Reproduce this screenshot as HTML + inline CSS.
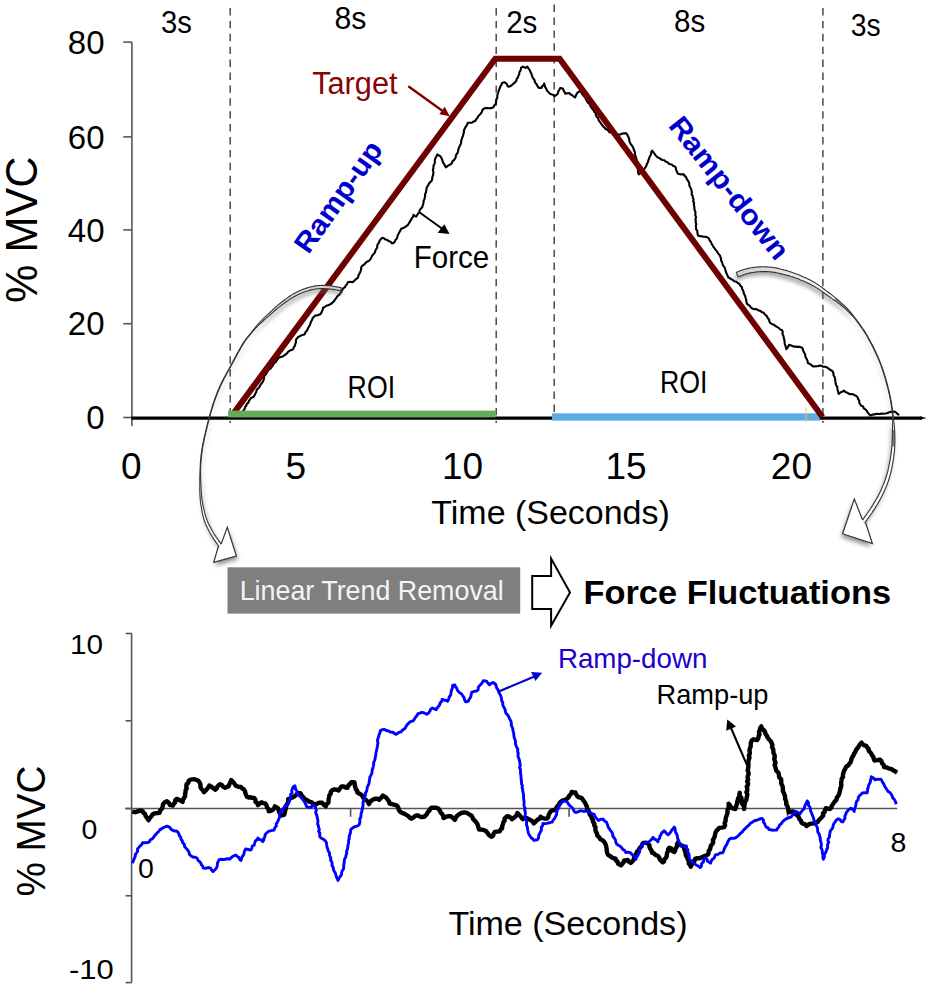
<!DOCTYPE html>
<html><head><meta charset="utf-8"><title>Force ramp figure</title>
<style>
html,body{margin:0;padding:0;background:#fff;width:931px;height:988px;overflow:hidden;}
svg{display:block;}
text{font-family:"Liberation Sans", sans-serif;}
</style></head>
<body>
<svg width="931" height="988" viewBox="0 0 931 988">
<defs>
<linearGradient id="gr" gradientUnits="userSpaceOnUse" x1="737" y1="0" x2="830" y2="0"><stop offset="0" stop-color="#cfcfcf"/><stop offset="0.6" stop-color="#e6e6e6"/><stop offset="1" stop-color="#fff"/></linearGradient><linearGradient id="gl" gradientUnits="userSpaceOnUse" x1="341" y1="0" x2="240" y2="0"><stop offset="0" stop-color="#cfcfcf"/><stop offset="0.7" stop-color="#dcdcdc"/><stop offset="1" stop-color="#fff"/></linearGradient>
<filter id="sh" x="-20%" y="-20%" width="140%" height="140%"><feGaussianBlur stdDeviation="2.2"/></filter>
</defs>
<line x1="230.2" y1="8.0" x2="230.2" y2="423" stroke="#4a4a4a" stroke-width="1.5" stroke-dasharray="7.4 5.5" stroke-dashoffset="0"/>
<line x1="496.2" y1="8.0" x2="496.2" y2="423" stroke="#4a4a4a" stroke-width="1.5" stroke-dasharray="7.4 5.5" stroke-dashoffset="0"/>
<line x1="554.2" y1="4.6" x2="554.2" y2="414" stroke="#4a4a4a" stroke-width="1.5" stroke-dasharray="7.4 5.5" stroke-dashoffset="0"/>
<line x1="822.9" y1="8.0" x2="822.9" y2="423" stroke="#4a4a4a" stroke-width="1.5" stroke-dasharray="7.4 5.5" stroke-dashoffset="0"/>
<line x1="131.9" y1="42" x2="131.9" y2="426" stroke="#555" stroke-width="1.6"/>
<line x1="123.3" y1="42.1" x2="131.9" y2="42.1" stroke="#555" stroke-width="1.6"/>
<line x1="123.3" y1="136.9" x2="131.9" y2="136.9" stroke="#555" stroke-width="1.6"/>
<line x1="123.3" y1="229.9" x2="131.9" y2="229.9" stroke="#555" stroke-width="1.6"/>
<line x1="123.3" y1="323.7" x2="131.9" y2="323.7" stroke="#555" stroke-width="1.6"/>
<line x1="123.3" y1="417.5" x2="131.9" y2="417.5" stroke="#555" stroke-width="1.6"/>
<text x="104.5" y="53.7" font-size="33" fill="#000" text-anchor="end" font-weight="normal">80</text>
<text x="104.5" y="148.5" font-size="33" fill="#000" text-anchor="end" font-weight="normal">60</text>
<text x="104.5" y="241.5" font-size="33" fill="#000" text-anchor="end" font-weight="normal">40</text>
<text x="104.5" y="335.3" font-size="33" fill="#000" text-anchor="end" font-weight="normal">20</text>
<text x="104.5" y="429.1" font-size="33" fill="#000" text-anchor="end" font-weight="normal">0</text>
<text x="131.2" y="478.7" font-size="37" fill="#000" text-anchor="middle" font-weight="normal">0</text>
<text x="295.7" y="478.7" font-size="37" fill="#000" text-anchor="middle" font-weight="normal">5</text>
<text x="462.6" y="478.7" font-size="37" fill="#000" text-anchor="middle" font-weight="normal">10</text>
<text x="626" y="478.7" font-size="37" fill="#000" text-anchor="middle" font-weight="normal">15</text>
<text x="791.4" y="478.7" font-size="37" fill="#000" text-anchor="middle" font-weight="normal">20</text>
<text x="431.3" y="524.4" font-size="34" fill="#000" text-anchor="start" font-weight="normal" textLength="238.5" lengthAdjust="spacingAndGlyphs">Time (Seconds)</text>
<text transform="translate(36.9,229.8) rotate(-90)" font-size="44.5" text-anchor="middle" textLength="146.2" lengthAdjust="spacingAndGlyphs">% MVC</text>
<text x="161.0" y="32.5" font-size="31" fill="#000" text-anchor="start" font-weight="normal" textLength="30.9" lengthAdjust="spacingAndGlyphs">3s</text>
<text x="334.40000000000003" y="28.7" font-size="31" fill="#000" text-anchor="start" font-weight="normal" textLength="31.9" lengthAdjust="spacingAndGlyphs">8s</text>
<text x="506.2" y="32.8" font-size="31" fill="#000" text-anchor="start" font-weight="normal" textLength="31.2" lengthAdjust="spacingAndGlyphs">2s</text>
<text x="674.0999999999999" y="32.2" font-size="31" fill="#000" text-anchor="start" font-weight="normal" textLength="31.2" lengthAdjust="spacingAndGlyphs">8s</text>
<text x="850.6999999999999" y="35.8" font-size="31" fill="#000" text-anchor="start" font-weight="normal" textLength="29.9" lengthAdjust="spacingAndGlyphs">3s</text>
<line x1="131.4" y1="418.2" x2="922" y2="418.2" stroke="#000" stroke-width="3.3"/>
<polygon points="920,416.4 927,418 920,419.6" fill="#000"/>
<rect x="552" y="413.3" width="267.8" height="7.3" fill="#5aace6"/>
<line x1="806.1" y1="407.6" x2="806.1" y2="422.2" stroke="#f2c230" stroke-width="1"/>
<polyline points="131.4,418.0 236.0,418.0 236.0,418.0 236.9,416.6 238.3,415.5 239.3,414.2 240.5,413.0 242.2,411.7 243.7,410.2 244.7,408.8 245.1,407.0 246.3,405.7 246.8,403.9 248.5,402.7 248.9,400.8 250.1,399.3 251.4,397.8 253.4,397.1 254.6,395.4 255.2,393.7 256.2,392.1 256.6,390.2 257.6,388.9 258.8,387.8 259.8,386.4 260.6,384.5 262.0,383.0 263.0,381.2 263.8,379.6 263.9,377.7 264.3,376.0 265.6,374.6 266.6,373.1 267.5,371.5 268.5,369.8 270.3,368.8 271.5,367.2 272.7,365.7 273.5,364.3 274.3,362.9 275.9,362.1 276.6,360.6 277.8,359.0 279.1,357.4 280.9,356.9 282.7,356.4 284.3,355.4 285.7,354.3 287.2,353.2 288.2,351.6 289.9,350.6 291.7,350.1 293.3,349.0 293.9,347.2 295.0,345.7 295.3,343.8 296.0,342.0 295.9,340.0 296.9,338.4 298.2,337.1 299.8,336.1 301.6,335.2 303.6,334.8 304.9,333.8 305.5,332.2 306.6,331.0 307.5,329.6 308.2,327.8 309.2,326.2 310.1,324.5 310.6,322.8 311.3,321.2 312.1,319.7 312.7,318.0 314.0,316.8 315.2,315.5 317.0,315.5 318.7,314.8 320.4,314.2 321.4,312.7 322.0,311.1 322.8,309.5 323.0,307.7 324.8,307.0 326.3,305.7 328.1,305.2 329.9,304.5 331.6,303.5 332.9,302.1 334.2,301.1 335.0,299.6 336.1,298.4 336.8,296.8 338.0,295.7 339.4,294.6 340.3,293.1 341.3,291.8 342.2,290.1 343.2,288.3 345.0,287.2 345.8,285.4 347.2,284.1 347.7,282.2 349.9,281.8 352.2,282.2 353.7,281.4 354.8,280.2 356.3,278.9 358.0,277.7 358.3,275.8 359.1,274.2 360.0,272.5 360.7,270.8 361.2,269.1 361.2,267.3 362.2,265.7 363.9,264.8 365.1,263.5 366.8,261.8 369.0,260.9 370.5,259.1 371.6,257.0 372.4,255.3 373.8,254.0 374.9,252.4 375.4,250.6 376.1,249.1 377.2,247.8 377.2,246.0 377.6,244.4 378.7,243.1 379.3,241.6 380.0,240.0 381.2,238.8 382.5,237.7 384.0,238.4 385.3,239.4 387.0,239.8 388.3,240.9 390.5,241.8 392.2,243.5 393.7,242.8 394.8,241.6 395.4,240.0 396.7,238.7 397.4,237.1 397.7,235.3 398.6,233.8 399.4,232.1 400.4,230.4 401.2,228.7 403.9,227.7 405.9,226.5 407.7,225.1 408.8,223.5 409.7,221.9 410.7,220.4 411.6,218.7 412.9,216.9 413.5,214.8 414.8,215.8 416.1,216.7 417.1,215.0 418.4,213.4 419.3,211.6 419.9,210.0 420.8,208.6 422.2,207.5 422.6,205.8 423.1,204.2 423.6,202.6 423.6,200.8 424.5,199.3 424.7,197.6 425.2,195.9 425.0,194.2 425.9,192.6 426.2,190.9 426.4,189.2 426.9,187.1 428.2,185.4 429.0,183.4 430.3,182.1 431.6,180.9 432.2,179.2 432.3,177.4 432.9,175.7 433.3,173.8 433.4,171.9 432.9,169.9 433.5,168.0 433.4,166.0 434.3,164.1 434.9,162.2 434.8,160.2 435.4,158.2 436.5,156.3 437.4,154.4 439.0,155.5 440.6,156.4 441.4,157.9 442.0,159.5 442.7,161.1 443.2,162.8 444.2,164.2 444.9,165.8 445.8,167.3 447.4,166.1 449.1,165.1 450.9,164.1 452.1,163.0 452.5,161.2 453.9,160.2 454.8,158.9 455.7,157.5 455.9,155.7 456.5,154.2 457.6,152.9 458.0,151.2 458.4,149.3 459.0,147.5 459.9,145.8 460.7,144.1 461.2,142.2 461.2,140.5 461.9,138.9 462.3,137.3 463.2,135.8 463.2,134.1 464.0,132.6 463.8,130.8 464.5,129.3 465.2,127.6 466.2,126.1 467.2,124.6 467.7,122.8 469.6,122.8 471.6,122.8 473.4,121.6 475.4,120.9 476.1,119.2 477.4,118.0 478.1,116.4 479.3,115.1 480.7,113.7 481.8,112.1 482.4,110.1 483.8,108.7 485.4,108.1 487.0,108.0 488.7,108.3 490.5,108.1 492.2,108.0 493.7,106.7 494.6,104.9 496.0,103.5 496.0,101.5 496.4,99.6 497.3,97.8 497.3,95.8 497.6,94.1 498.2,92.5 498.7,90.9 499.3,89.3 499.9,87.7 500.5,86.1 501.6,84.7 501.9,82.9 504.4,82.2 505.8,83.1 507.0,84.2 507.5,86.0 508.9,86.8 511.1,85.8 512.8,84.2 515.2,82.1 516.4,80.7 516.7,78.8 518.0,77.4 518.4,75.6 519.3,74.2 519.2,72.4 520.2,71.1 520.8,69.5 521.0,67.9 522.9,66.6 525.5,67.9 527.4,66.6 528.6,68.6 530.0,70.5 530.6,72.3 531.5,74.0 532.1,75.8 532.6,77.6 533.6,78.9 534.6,80.3 534.9,82.0 535.8,83.4 537.0,84.8 537.7,86.6 539.0,87.9 541.6,87.9 542.1,86.2 543.7,85.1 544.2,83.4 544.7,85.2 545.1,86.9 546.1,88.5 547.1,90.7 548.7,92.4 549.9,93.7 551.6,94.4 553.3,94.8 554.5,96.2 556.3,95.1 557.7,93.7 558.3,91.6 559.3,89.8 560.3,87.9 562.8,88.5 563.5,90.3 564.5,92.0 565.4,93.7 567.3,93.3 569.3,93.0 570.3,94.3 571.9,95.0 573.4,96.3 575.1,97.5 575.8,95.7 576.6,94.0 577.7,92.4 579.2,91.7 580.2,90.4 581.2,91.9 581.8,93.6 583.0,95.0 584.1,96.4 585.3,97.8 586.0,99.5 587.0,101.0 587.7,102.5 589.3,103.5 590.0,105.0 590.7,106.5 591.6,107.9 592.6,109.2 593.8,110.4 594.2,112.0 595.7,113.1 595.9,114.9 596.4,116.4 597.8,117.6 598.4,119.1 598.9,120.7 600.1,121.9 600.8,123.3 601.9,124.6 602.8,125.9 604.1,127.2 605.2,128.7 607.0,129.4 608.3,130.7 609.3,132.3 611.0,132.5 612.6,133.1 614.0,134.0 615.7,133.6 617.4,134.6 619.2,134.6 620.9,134.3 622.5,133.5 624.3,133.4 626.0,133.0 627.0,134.4 627.9,135.9 628.6,137.5 629.2,139.2 629.4,141.0 630.0,142.7 630.8,144.2 631.9,145.6 632.9,147.0 633.5,148.7 634.2,150.5 634.9,152.2 635.0,154.1 635.4,156.0 636.1,157.7 636.5,159.4 637.0,161.0 637.2,162.7 637.3,164.4 637.3,166.1 637.4,167.8 638.0,169.4 637.9,171.1 638.3,172.7 638.7,174.4 640.6,173.1 642.5,171.9 643.5,170.1 644.7,168.4 645.8,166.7 646.6,165.2 647.0,163.6 647.9,162.2 648.3,160.5 649.0,159.0 649.4,157.2 650.3,155.7 651.1,154.0 651.2,152.1 652.2,150.6 653.3,152.1 654.4,153.6 655.4,155.1 656.5,156.4 657.7,157.4 659.4,157.9 660.6,159.0 662.4,160.0 664.4,160.3 665.5,161.5 667.1,162.0 668.3,163.1 669.6,164.1 671.7,164.6 673.3,166.1 675.4,166.7 675.9,168.5 676.3,170.4 677.1,172.1 678.0,173.8 679.9,174.2 681.8,174.4 683.8,174.4 684.7,175.9 686.1,177.1 686.7,178.9 687.7,180.3 688.8,181.9 689.3,183.7 689.3,185.6 690.2,187.3 691.1,188.9 691.5,190.7 691.9,192.4 691.6,194.3 692.7,195.9 692.8,197.7 693.6,199.4 693.1,201.3 694.1,202.9 693.8,204.8 694.3,206.5 694.4,208.3 694.6,210.1 695.4,211.8 695.4,213.6 695.3,215.3 696.1,217.1 695.4,218.9 695.8,220.6 695.7,222.4 696.3,224.1 695.8,225.9 696.1,227.7 696.1,229.4 697.3,230.7 697.4,232.3 697.6,234.0 698.0,235.5 699.7,236.3 701.5,236.1 703.2,236.8 705.5,236.8 707.7,237.4 709.0,238.8 709.7,240.5 710.9,241.9 711.5,243.7 712.7,245.3 713.5,247.1 714.6,248.3 715.5,249.6 716.5,250.8 717.4,252.2 718.5,253.9 719.9,255.4 720.6,257.4 721.1,259.0 721.1,260.7 722.1,262.2 722.5,263.8 723.1,265.6 724.5,267.1 725.1,269.0 725.6,270.7 726.1,272.5 726.9,274.1 727.6,275.7 728.3,277.4 729.8,278.2 731.2,279.2 732.8,279.9 734.3,281.3 736.5,281.8 738.0,283.2 739.6,284.2 740.4,285.9 741.9,287.0 742.0,288.7 742.9,290.1 743.5,291.7 743.8,293.3 744.5,294.8 745.3,296.5 745.7,298.3 746.3,300.1 746.4,302.0 747.0,303.8 748.4,304.8 749.8,305.8 750.8,307.3 752.2,308.3 753.8,309.2 755.7,309.0 757.3,309.6 758.8,310.6 760.6,311.1 762.0,312.3 763.8,312.8 764.7,314.2 765.9,315.3 767.0,316.5 767.7,318.0 769.0,319.5 769.4,321.4 770.2,323.1 771.9,323.9 773.7,324.7 775.3,325.8 776.9,326.9 778.7,327.9 780.1,329.4 782.0,330.3 782.8,331.9 782.4,333.9 783.3,335.5 783.7,337.2 784.0,338.9 784.5,340.6 784.5,342.4 784.9,344.1 785.5,345.8 785.9,347.5 786.3,349.2 787.4,347.9 788.3,346.5 788.9,344.9 790.6,345.2 792.3,346.0 794.0,346.6 795.8,346.6 797.8,346.9 799.8,346.9 801.8,347.5 802.9,349.1 803.3,351.0 804.2,352.8 805.2,354.4 805.3,356.3 805.9,357.9 807.0,359.5 807.6,361.2 807.8,363.0 809.7,363.9 811.4,365.0 813.0,366.4 814.7,366.4 816.4,366.3 818.2,366.1 819.8,365.5 821.6,365.7 823.2,366.8 825.0,366.7 826.7,367.3 828.5,368.4 830.0,369.8 831.9,370.7 832.9,372.0 833.5,373.5 833.5,375.3 834.4,376.7 835.0,378.4 835.3,380.1 835.4,381.9 835.7,383.6 836.2,385.3 837.2,386.9 837.4,388.7 837.8,390.4 838.2,392.2 838.7,393.9 840.3,392.5 842.2,391.7 843.9,390.5 845.3,392.0 847.4,392.7 849.0,393.9 850.7,394.2 852.5,394.1 854.2,394.8 856.0,395.9 857.6,397.3 858.1,399.1 859.3,400.6 859.2,402.6 860.2,404.2 861.2,405.8 863.1,406.5 863.8,408.4 865.4,409.4 866.8,410.8 867.7,412.6 869.0,414.1 870.5,415.4 872.4,414.6 874.5,414.4 876.5,413.7 878.2,413.9 880.0,414.0 881.7,413.5 883.4,413.7 885.2,413.5 887.0,413.2 888.6,412.5 890.3,411.9 892.0,411.9 893.8,411.5 895.5,411.9 896.6,413.1 897.9,414.1 898.9,415.4" fill="none" stroke="#000" stroke-width="2.1" stroke-linejoin="round"/>
<polyline points="231.2,416.5 495.3,58.7 559.6,58.7 822.5,417" fill="none" stroke="#6e0000" stroke-width="6" stroke-linejoin="miter"/>
<rect x="228.2" y="410.6" width="267.4" height="6.8" fill="#62ae58"/>
<text x="312.2" y="94" font-size="31" fill="#880404" text-anchor="start" font-weight="normal" textLength="85.3" lengthAdjust="spacingAndGlyphs">Target</text>
<line x1="409" y1="86.8" x2="443" y2="111.3" stroke="#800000" stroke-width="2.3" stroke-linecap="round"/>
<polygon points="449.8,116.2 439.3,114.3 444.7,106.7" fill="#800000"/>
<text x="413.8" y="267.7" font-size="31.5" fill="#000" text-anchor="start" font-weight="normal" textLength="75.5" lengthAdjust="spacingAndGlyphs">Force</text>
<line x1="419.3" y1="212.2" x2="443" y2="229.2" stroke="#000" stroke-width="2"/>
<polygon points="449.6,234.1 437.6,232.8 444.3,224.2" fill="#000"/>
<text x="347.6" y="397.8" font-size="31.5" fill="#000" text-anchor="start" font-weight="normal" textLength="47.5" lengthAdjust="spacingAndGlyphs">ROI</text>
<text x="659.9" y="393.3" font-size="31.5" fill="#000" text-anchor="start" font-weight="normal" textLength="47.5" lengthAdjust="spacingAndGlyphs">ROI</text>
<text transform="translate(308.4,255.3) rotate(-54.5)" font-size="28.5" font-weight="bold" fill="#0000cc" textLength="130" lengthAdjust="spacingAndGlyphs">Ramp-up</text>
<text transform="translate(667.4,125.9) rotate(51.5)" font-size="28.5" font-weight="bold" fill="#0000cc" textLength="174" lengthAdjust="spacingAndGlyphs">Ramp-down</text>
<rect x="227.5" y="567.3" width="292.7" height="46.3" fill="#7f7f7f"/>
<text x="239.7" y="599.8" font-size="28.3" fill="#f4f4f4" text-anchor="start" font-weight="normal" textLength="264" lengthAdjust="spacingAndGlyphs">Linear Trend Removal</text>
<polygon points="532.2,575.9 551.1,575.9 551.1,558.6 570,592.4 551.1,625.8 551.1,609 532.2,609" fill="#fff" stroke="#000" stroke-width="2" stroke-linejoin="miter"/>
<text x="583.5" y="604.2" font-size="34" fill="#000" text-anchor="start" font-weight="bold" textLength="307.5" lengthAdjust="spacingAndGlyphs">Force Fluctuations</text>
<line x1="131.6" y1="633.5" x2="131.6" y2="982.6" stroke="#555" stroke-width="1.6"/>
<line x1="125.6" y1="633.5" x2="131.6" y2="633.5" stroke="#555" stroke-width="1.6"/>
<line x1="125.6" y1="720.8" x2="131.6" y2="720.8" stroke="#555" stroke-width="1.6"/>
<line x1="125.6" y1="808.5" x2="131.6" y2="808.5" stroke="#555" stroke-width="1.6"/>
<line x1="125.6" y1="895.8" x2="131.6" y2="895.8" stroke="#555" stroke-width="1.6"/>
<line x1="125.6" y1="982.6" x2="131.6" y2="982.6" stroke="#555" stroke-width="1.6"/>
<line x1="125.2" y1="808.5" x2="897.3" y2="808.5" stroke="#555" stroke-width="1.6"/>
<line x1="350.6" y1="808.5" x2="350.6" y2="816.8" stroke="#555" stroke-width="1.6"/>
<line x1="569.1" y1="808.5" x2="569.1" y2="816.8" stroke="#555" stroke-width="1.6"/>
<line x1="787.6" y1="808.5" x2="787.6" y2="816.8" stroke="#555" stroke-width="1.6"/>
<text x="70" y="654.4" font-size="28.5" fill="#000" text-anchor="start" font-weight="normal" textLength="33" lengthAdjust="spacingAndGlyphs">10</text>
<text x="81.4" y="839" font-size="28.5" fill="#000" text-anchor="start" font-weight="normal">0</text>
<text x="69" y="978.7" font-size="28.5" fill="#000" text-anchor="start" font-weight="normal" textLength="44.8" lengthAdjust="spacingAndGlyphs">-10</text>
<text x="138" y="878.4" font-size="28.5" fill="#000" text-anchor="start" font-weight="normal">0</text>
<text x="890.5" y="851.9" font-size="28.5" fill="#000" text-anchor="start" font-weight="normal">8</text>
<text transform="translate(45.3,831.1) rotate(-90)" font-size="41" text-anchor="middle" textLength="130.8" lengthAdjust="spacingAndGlyphs">% MVC</text>
<text x="448.4" y="934.8" font-size="34" fill="#000" text-anchor="start" font-weight="normal" textLength="239.1" lengthAdjust="spacingAndGlyphs">Time (Seconds)</text>
<polyline points="132.2,811.6 135.3,812.2 137.0,811.4 138.9,811.0 140.8,810.5 142.6,811.0 143.4,812.7 145.1,814.0 145.6,815.9 147.1,818.0 148.6,820.1 150.0,817.9 151.7,815.9 152.8,814.2 154.7,813.4 157.2,813.1 159.6,812.8 160.2,810.4 162.0,808.6 162.7,806.5 163.0,804.3 164.4,802.5 166.9,801.3 168.8,802.7 169.9,804.9 172.9,805.5 173.7,803.8 175.1,802.4 175.2,800.3 176.6,798.9 179.6,800.1 182.6,801.9 182.9,799.8 184.0,798.0 185.1,796.2 185.1,794.0 185.5,792.2 185.6,790.3 186.7,788.6 186.3,786.7 186.5,784.4 188.4,782.8 188.7,780.6 190.5,779.7 192.4,779.4 194.6,779.2 196.6,780.0 198.4,780.8 199.6,782.5 200.5,784.6 200.4,787.0 201.5,789.1 203.1,790.4 203.9,792.2 205.5,790.7 206.9,789.1 208.3,787.4 209.3,785.5 211.2,786.6 213.0,787.9 215.4,789.7 216.7,788.4 217.4,786.6 218.6,785.2 220.3,784.3 222.1,785.2 223.3,786.9 225.1,787.9 226.9,786.9 228.8,786.1 229.4,784.0 230.5,782.1 231.2,780.0 232.5,781.4 233.8,782.7 234.8,784.3 236.0,785.8 238.4,786.8 240.9,787.0 242.2,788.4 243.9,789.4 245.0,791.1 245.3,793.1 246.1,794.9 246.9,796.7 248.7,797.5 250.6,797.3 252.3,797.9 254.2,797.9 255.4,799.6 255.5,801.9 257.5,803.1 257.9,805.2 259.6,803.6 261.5,802.2 263.2,803.1 265.1,803.4 266.5,805.2 267.0,807.3 268.5,809.1 268.8,811.3 270.7,810.9 272.4,810.1 274.0,808.5 274.9,806.4 277.9,808.2 278.6,810.1 278.9,812.0 280.4,813.6 280.9,815.5 284.0,814.9 284.7,813.1 285.0,811.3 285.5,809.5 285.8,807.6 286.3,805.5 287.5,803.5 288.2,801.4 288.2,799.1 290.6,798.2 293.1,797.3 295.0,796.0 296.7,794.3 298.4,793.1 300.4,793.1 301.4,794.9 302.6,796.4 304.0,797.9 305.4,799.7 307.6,800.4 309.3,801.7 311.3,802.2 313.3,803.5 314.9,805.2 316.7,803.9 318.6,802.8 322.2,802.8 323.8,804.8 325.8,806.4 326.5,804.2 328.3,802.8 328.6,801.0 328.6,799.1 329.0,797.2 329.3,795.4 330.7,793.8 330.7,791.9 332.2,790.2 334.3,789.4 336.5,789.7 338.6,790.6 340.0,788.4 341.6,786.4 344.0,786.5 345.6,787.6 347.6,787.7 348.3,785.5 350.0,784.0 351.3,782.2 354.3,782.2 354.8,784.0 354.8,785.8 355.4,787.5 355.9,789.3 357.2,790.8 357.4,792.6 359.1,793.5 360.7,794.4 362.2,795.6 363.0,797.4 364.2,798.8 365.9,799.8 367.8,801.7 368.9,804.1 369.8,802.4 371.0,801.0 372.5,799.8 375.6,798.6 377.5,798.8 379.2,799.8 380.4,798.4 381.8,797.1 382.9,795.6 385.9,797.4 387.4,799.3 388.9,801.1 389.5,803.5 391.7,804.0 393.8,804.7 395.7,805.1 397.4,805.9 398.4,808.0 398.9,810.3 400.5,812.0 402.5,813.1 404.7,813.8 406.5,815.0 408.4,816.2 409.8,817.6 411.4,818.7 413.6,817.3 415.6,815.6 417.5,815.3 419.3,816.2 421.6,817.1 424.1,816.8 425.6,815.4 427.0,813.9 427.8,812.0 429.3,810.8 430.1,809.0 431.4,807.7 433.9,807.6 436.3,807.7 438.5,808.8 439.9,810.8 440.7,812.7 442.3,814.2 443.2,816.0 443.6,818.1 445.8,816.8 448.4,816.2 450.0,816.1 451.9,817.0 453.4,818.4 454.9,819.8 455.8,817.6 457.1,815.7 459.1,814.3 461.4,812.9 464.0,812.5 466.3,812.6 468.2,813.7 469.8,814.8 471.5,815.7 472.5,817.4 473.3,819.3 474.8,820.7 476.1,822.2 477.3,823.8 477.9,825.7 478.5,827.6 479.1,829.5 481.6,829.6 484.0,830.1 486.1,831.2 487.6,833.1 489.1,835.3 491.3,836.8 493.1,835.6 493.7,833.5 494.9,831.9 497.3,831.6 499.8,831.3 500.5,829.4 502.2,828.3 502.1,826.2 502.9,824.4 503.3,822.4 504.6,820.7 504.6,818.6 507.1,816.1 509.0,816.7 510.7,817.6 511.9,819.2 514.4,817.4 516.4,815.6 517.4,813.1 519.8,815.5 521.3,817.4 522.9,819.2 524.5,818.1 526.5,818.0 528.3,819.0 530.1,819.8 532.4,821.1 533.8,823.4 535.6,821.6 537.4,819.8 539.4,818.7 540.5,816.7 542.4,818.1 544.7,818.6 547.1,818.6 548.3,816.9 548.7,814.8 549.7,813.0 550.8,811.3 552.5,810.3 554.4,810.1 556.0,808.6 557.0,806.7 558.6,805.2 559.4,803.2 560.9,801.6 562.8,800.4 565.0,800.0 566.8,798.8 568.4,797.5 569.4,795.5 571.0,794.0 571.8,791.9 573.5,792.6 575.4,792.5 576.1,794.3 577.2,795.9 578.5,797.3 580.4,797.5 582.1,798.5 583.6,800.7 585.1,802.8 585.9,804.8 587.0,806.7 587.0,808.9 588.6,810.6 589.3,812.8 590.0,814.9 591.3,816.4 591.8,818.3 593.0,819.8 593.0,821.8 594.3,823.4 594.3,825.5 595.5,827.1 595.3,829.4 595.8,831.5 597.0,833.4 597.3,835.6 599.1,837.1 600.3,839.2 602.4,840.1 604.0,841.6 605.2,843.5 606.0,845.5 606.4,847.7 606.7,849.6 606.8,851.5 607.3,853.3 608.2,855.0 610.1,856.2 611.9,857.4 613.6,858.2 615.5,858.6 615.9,860.4 617.6,861.6 617.9,863.5 621.0,865.3 622.2,863.8 623.5,862.4 624.0,860.5 625.9,860.6 627.6,859.9 628.9,861.7 630.7,862.9 632.2,861.4 633.7,859.9 634.1,857.7 635.7,856.0 636.1,853.8 637.1,851.6 638.9,850.0 639.8,847.7 641.5,846.5 642.1,844.4 643.4,842.9 645.2,842.8 647.1,842.9 649.5,845.3 649.5,847.3 650.4,849.0 651.7,850.6 651.9,852.6 654.0,853.4 655.6,855.0 657.7,855.8 659.2,857.4 659.9,859.4 661.3,860.9 662.8,862.3 664.0,861.5 664.2,859.6 665.7,858.2 666.6,856.6 666.8,854.7 667.1,852.8 668.0,851.2 668.1,849.2 669.2,847.7 671.3,848.6 672.2,851.1 674.3,852.0 675.2,850.2 675.7,848.3 677.0,846.6 677.0,844.4 677.8,842.6 679.2,844.2 680.9,845.2 682.9,846.0 683.9,847.6 684.4,849.3 684.9,851.1 685.6,852.7 685.7,854.6 686.4,856.3 687.4,857.9 687.9,859.7 689.0,861.3 688.7,863.5 690.2,864.9 690.7,866.7 691.7,864.7 693.0,862.9 694.4,861.1 695.0,858.9 697.3,858.2 699.7,858.3 701.9,857.2 703.9,856.3 705.9,855.5 707.9,854.6 708.6,852.9 708.7,850.9 710.0,849.4 710.4,847.6 710.8,845.7 712.2,844.3 713.2,842.4 712.9,840.1 713.9,838.2 714.8,836.3 715.1,834.2 715.6,832.2 716.6,830.6 718.0,829.3 719.1,827.9 721.7,827.6 724.3,827.1 725.1,825.2 724.6,823.0 725.6,821.1 725.6,819.0 726.1,817.0 726.8,815.0 727.5,813.2 727.4,811.3 727.8,809.4 728.4,807.6 728.9,805.8 728.6,803.8 729.8,805.2 730.7,806.8 732.0,808.1 735.4,809.0 735.9,807.2 736.4,805.4 737.1,803.6 737.2,801.7 737.8,799.9 738.2,798.1 739.3,796.4 739.5,794.5 739.7,792.6 739.7,794.6 740.1,796.4 741.5,798.0 741.5,799.9 741.5,801.9 742.1,803.7 743.5,805.2 744.0,807.0 744.0,809.0 744.4,807.1 744.3,805.1 744.9,803.3 745.2,801.4 746.4,799.7 746.6,797.8 747.1,796.0 747.4,794.2 746.4,792.3 747.3,790.5 747.3,788.7 746.7,786.9 747.8,785.1 748.1,783.3 747.1,781.4 748.2,779.7 747.6,777.8 747.8,776.0 748.6,774.2 748.5,772.4 747.6,770.5 748.1,768.7 748.3,766.9 748.4,765.1 748.4,763.2 748.4,761.3 748.8,759.5 749.5,757.7 748.8,755.7 749.7,753.9 749.8,752.0 749.4,750.1 750.0,748.3 750.7,746.5 750.7,744.6 750.9,742.7 751.7,740.6 753.5,739.3 757.0,740.1 758.3,738.3 758.6,736.3 759.5,734.4 758.9,732.1 759.8,730.2 760.1,728.2 761.3,726.4 762.0,728.5 763.7,730.1 765.0,731.9 765.6,734.1 767.0,735.8 767.7,737.9 769.1,739.5 770.7,741.0 771.6,742.9 772.4,744.9 772.0,747.2 773.2,749.1 773.4,751.1 773.4,753.0 774.5,754.9 774.8,756.8 774.2,758.9 774.8,760.8 775.5,762.7 774.6,764.8 775.3,766.7 775.7,768.6 776.4,770.9 778.4,772.6 778.9,775.0 779.2,777.3 781.1,779.1 781.3,781.5 781.2,783.5 782.2,785.3 782.8,787.2 782.9,789.1 782.8,791.1 783.8,792.9 784.5,794.7 785.1,796.6 785.0,798.6 785.8,800.4 786.3,802.2 786.2,804.2 787.3,806.1 788.0,808.1 788.4,810.2 788.6,812.3 791.0,811.6 793.5,811.5 795.0,812.6 795.9,814.4 797.5,815.5 798.8,817.2 799.5,819.2 801.0,820.8 801.6,822.8 803.3,823.7 805.2,824.4 806.4,826.0 808.2,824.9 809.9,823.8 812.1,823.6 814.1,823.4 815.9,822.6 817.8,822.0 818.8,820.1 820.4,818.7 821.8,817.1 823.2,815.6 822.9,813.3 824.7,811.9 825.0,809.9 825.9,808.2 827.9,808.6 829.9,809.0 831.3,807.6 831.8,805.7 832.9,804.2 833.9,802.6 835.1,801.1 836.5,799.7 836.8,797.6 838.0,796.1 839.1,794.3 839.6,792.3 840.1,790.3 840.4,788.3 841.2,786.4 841.3,784.5 841.1,782.5 841.5,780.6 841.7,778.7 843.0,776.9 842.9,775.0 843.4,772.7 844.1,770.6 845.3,768.6 846.2,766.6 848.3,765.6 849.3,763.7 850.6,762.3 851.2,760.6 851.5,758.7 852.3,757.1 853.4,755.6 854.1,753.6 855.4,751.9 856.0,749.9 857.4,748.3 858.7,746.4 859.9,744.4 861.5,742.7 862.7,744.3 864.3,745.4 866.3,745.9 867.3,747.6 868.7,749.0 868.8,751.1 870.4,752.4 871.4,753.9 872.2,755.6 873.4,757.0 873.7,758.8 874.4,760.5 876.3,760.2 878.2,760.0 880.1,759.7 881.5,761.3 882.1,763.4 883.7,764.8 884.1,767.0 886.7,767.5 889.0,768.6 891.2,768.9 893.0,770.2 895.1,771.3 897.1,772.6" fill="none" stroke="#000" stroke-width="4.4" stroke-linejoin="round"/>
<polyline points="132.2,863.2 133.0,861.6 133.7,859.9 134.4,858.2 135.2,856.6 135.3,854.7 136.5,853.0 137.6,851.3 137.5,849.0 138.9,847.4 140.1,845.8 141.8,844.5 142.6,842.6 145.0,842.8 147.4,842.6 149.3,841.8 150.4,839.8 152.3,838.9 153.5,837.4 154.5,835.7 155.9,834.4 157.1,832.9 158.8,831.5 160.0,829.6 162.0,828.6 163.5,827.5 165.2,826.8 166.9,826.2 169.9,827.4 171.0,829.3 172.9,830.4 174.7,831.0 176.6,831.0 178.1,832.3 179.0,834.1 179.4,835.9 180.8,837.3 181.0,839.3 182.3,840.7 182.6,842.6 184.3,844.3 184.7,846.8 186.3,848.6 187.8,850.2 189.0,852.1 189.4,854.4 191.1,855.9 193.0,857.1 195.3,857.3 197.2,858.3 198.0,860.3 199.6,861.6 200.9,863.2 201.5,864.9 202.8,866.3 203.3,868.1 205.8,868.3 208.1,867.5 210.6,868.1 211.6,870.0 213.0,871.7 215.4,869.3 216.7,867.6 217.3,865.6 217.4,863.4 218.2,861.5 219.1,859.6 221.5,859.2 223.9,859.6 225.9,859.0 227.9,858.7 230.0,859.0 231.6,857.3 233.6,855.9 236.0,855.0 237.1,856.5 238.9,857.4 239.5,859.3 240.9,860.5 241.5,858.5 242.3,856.5 243.7,854.8 244.1,852.8 244.7,850.7 245.7,848.9 248.2,849.5 250.6,850.1 251.9,848.4 252.2,846.2 254.2,845.0 254.8,842.9 255.3,841.0 257.1,839.8 257.9,838.0 259.3,839.5 261.4,839.9 262.7,841.6 263.8,840.0 264.0,838.1 265.0,836.5 265.1,834.6 266.4,833.1 268.6,831.4 271.2,830.7 274.2,830.1 274.6,828.0 276.3,826.3 276.2,824.0 277.3,822.2 278.2,820.5 279.0,818.7 279.6,816.9 279.5,814.9 280.1,813.1 280.9,811.3 282.2,809.7 283.6,808.2 284.6,806.4 287.6,805.2 287.8,803.3 289.1,801.9 289.7,800.2 290.4,798.5 290.6,796.7 290.6,794.6 292.1,793.0 291.6,790.8 292.4,788.9 293.1,787.0 294.9,785.8 295.4,787.5 295.6,789.4 296.9,790.8 296.8,792.8 297.9,794.3 299.1,795.7 300.5,796.8 301.7,798.2 302.8,799.7 304.0,801.2 305.0,802.8 305.9,804.5 306.4,806.4 308.2,807.2 310.1,807.6 311.8,806.5 312.5,804.6 314.9,806.4 315.7,808.4 316.3,810.4 315.6,812.6 316.5,814.5 317.1,816.5 317.4,818.6 318.0,820.4 317.8,822.3 317.7,824.1 318.4,825.9 318.7,827.7 319.4,829.5 318.6,831.4 319.9,833.1 319.6,835.0 319.8,836.8 321.4,838.3 323.4,839.2 325.3,840.8 326.5,842.9 326.7,845.0 327.0,847.1 327.8,849.0 328.2,851.0 329.5,852.9 329.5,855.0 330.1,856.7 330.9,858.3 330.6,860.3 331.8,861.8 332.1,863.6 332.0,865.5 333.1,867.1 333.4,869.2 334.0,871.1 335.3,872.8 335.9,874.8 336.3,876.8 337.3,878.6 338.0,880.5 339.0,878.3 340.3,876.4 341.6,874.4 341.6,872.5 342.3,870.8 343.4,869.2 343.7,867.5 343.7,865.6 344.0,863.8 344.2,862.0 344.3,860.2 344.9,858.5 345.9,856.8 346.0,855.0 346.8,853.3 346.5,851.3 347.3,849.6 347.7,847.8 347.9,846.0 348.2,844.2 348.7,842.4 348.5,840.5 349.3,838.7 349.1,836.8 349.7,835.0 350.3,833.3 350.6,831.5 350.7,829.6 352.7,827.9 354.9,826.6 357.3,826.1 359.2,824.7 359.7,822.9 360.0,821.1 359.7,819.1 360.7,817.4 361.0,815.6 361.0,813.7 361.8,812.0 361.9,810.2 362.6,808.4 362.7,806.6 363.2,804.8 362.9,802.9 363.4,801.1 364.1,799.2 364.7,797.3 365.4,795.5 365.3,793.4 366.4,791.6 367.0,789.7 367.1,787.7 367.8,786.0 368.7,784.4 369.2,782.7 369.2,780.8 369.7,779.1 369.8,777.2 370.7,775.6 371.6,773.9 372.1,772.1 372.1,770.1 372.8,768.4 373.3,766.5 373.7,764.7 373.6,762.7 374.4,761.0 375.1,759.0 375.3,757.0 375.8,755.0 375.9,752.9 376.5,750.9 376.8,748.9 377.4,746.9 377.6,744.9 378.0,742.8 377.4,740.7 377.9,738.7 378.6,736.7 379.1,734.6 380.0,732.7 380.4,730.6 382.1,729.7 384.1,729.4 386.4,730.5 388.9,731.2 390.7,732.1 392.8,732.2 394.4,733.5 396.2,734.3 397.7,733.2 399.2,732.2 401.1,731.9 402.6,730.0 404.7,728.8 405.8,726.9 406.9,725.0 408.4,723.4 409.8,722.2 411.3,721.2 413.2,720.9 414.4,719.1 415.5,717.2 417.0,715.5 418.1,713.6 419.9,713.1 421.7,712.4 424.3,713.0 426.6,714.2 428.6,713.0 430.0,711.0 430.7,709.1 432.4,708.0 434.3,708.8 436.1,709.8 437.1,708.0 438.4,706.5 439.7,704.9 440.1,702.9 441.7,701.5 442.1,699.5 444.0,700.0 445.9,700.2 447.6,701.3 448.7,699.3 449.2,697.0 450.6,695.2 451.0,693.3 451.2,691.3 451.8,689.4 452.7,687.5 452.5,685.5 454.9,684.9 455.5,686.8 456.8,688.2 457.3,690.1 458.5,691.6 459.9,692.9 461.6,694.0 462.8,695.9 464.1,697.7 464.6,700.0 465.8,701.9 468.2,701.3 469.0,699.5 470.2,697.9 470.9,696.1 471.3,694.1 471.9,692.2 474.3,691.4 476.7,691.0 478.2,689.6 478.3,687.3 479.5,685.7 481.0,684.3 482.3,682.5 483.4,680.6 486.5,681.2 487.9,683.1 489.5,684.9 491.1,683.3 493.1,682.5 495.6,684.3 496.2,686.2 496.7,688.1 498.0,689.7 498.6,691.6 499.4,693.4 500.4,695.1 501.1,697.0 501.6,698.9 501.6,700.8 502.8,702.3 502.7,704.2 503.2,706.0 504.1,707.6 505.0,709.2 505.3,711.0 506.0,713.3 507.7,715.1 508.9,717.1 509.8,719.1 510.8,721.0 511.4,723.1 511.2,725.2 512.2,727.2 512.9,729.2 513.0,731.2 513.8,733.2 513.8,735.3 514.2,737.4 514.9,739.3 515.5,741.3 515.5,743.4 515.9,745.5 516.8,747.4 517.8,749.3 517.6,751.5 518.3,753.4 517.9,755.6 518.5,757.6 519.2,759.6 519.7,761.6 519.9,763.6 520.3,765.6 519.5,767.7 520.5,769.7 520.5,771.7 520.6,773.8 521.0,775.9 521.0,778.0 521.3,780.0 521.6,782.1 521.5,784.0 522.5,785.7 522.0,787.6 522.8,789.4 522.7,791.2 523.2,793.0 523.5,794.8 523.5,796.7 523.6,798.6 523.9,800.5 524.2,802.4 523.9,804.4 524.2,806.3 525.1,808.1 524.7,810.1 525.3,812.0 525.3,813.9 525.0,815.9 525.3,817.8 525.9,819.6 526.8,821.4 526.5,823.4 526.6,825.3 527.4,827.0 527.6,828.9 527.9,830.8 528.3,832.6 528.9,834.4 530.1,835.9 531.0,837.7 532.7,838.8 533.8,840.4 535.6,840.0 537.4,839.8 538.6,838.0 538.6,835.7 539.5,833.8 540.5,831.9 541.5,829.9 541.2,827.5 542.7,825.6 542.9,823.4 545.0,823.6 547.1,823.4 549.5,822.7 552.0,822.2 553.0,820.3 554.4,818.6 555.5,816.7 556.5,814.7 556.8,812.5 557.1,810.5 558.2,808.8 559.0,807.0 559.6,805.2 560.8,803.8 561.9,802.3 563.3,801.0 565.2,800.9 566.9,801.6 568.1,803.3 569.1,805.0 570.6,806.4 572.2,807.6 573.3,809.2 573.9,811.2 575.4,812.5 578.0,811.9 580.3,810.7 582.7,811.2 585.1,811.3 587.7,811.3 590.0,812.5 592.0,813.6 594.2,814.3 594.8,816.2 595.9,817.7 597.2,819.0 598.5,820.4 600.8,819.3 603.4,819.2 604.3,820.9 606.1,821.8 607.0,823.4 607.7,825.3 608.3,827.3 609.5,829.0 610.6,830.7 611.9,832.3 612.7,834.2 612.9,836.4 614.3,838.0 615.5,839.9 615.8,842.1 616.7,844.1 618.4,845.2 620.2,846.2 621.6,847.7 622.9,849.4 624.8,850.6 625.8,852.6 628.0,852.1 630.1,852.6 632.0,854.3 633.7,856.2 635.3,857.4 636.1,859.2 636.3,857.2 637.7,855.6 638.6,853.8 639.5,852.1 639.8,850.1 640.2,847.9 641.3,846.1 642.2,844.1 644.6,843.3 647.1,842.9 649.0,841.7 650.7,840.4 651.9,838.9 653.1,837.4 654.4,839.2 656.5,840.1 658.0,841.6 658.2,839.7 659.7,838.3 659.8,836.3 661.0,834.9 661.6,833.1 664.1,830.7 665.5,832.1 666.6,833.8 668.3,834.8 669.6,833.3 670.8,831.8 671.7,830.0 673.1,828.7 674.3,827.1 675.2,829.0 675.2,831.2 676.0,833.1 677.1,835.0 677.5,837.0 677.8,839.1 678.8,840.8 679.2,842.7 680.7,844.1 681.2,846.0 683.8,846.3 686.4,846.0 686.7,848.0 687.9,849.8 687.7,852.0 688.8,853.8 689.3,855.7 689.2,857.9 689.8,859.8 691.7,861.0 693.0,863.0 695.0,864.1 696.7,865.2 698.6,866.2 700.2,867.5 701.5,865.8 701.7,863.4 703.5,861.9 703.8,859.6 705.3,858.0 706.9,859.0 707.5,861.0 709.0,862.1 710.5,863.2 711.2,861.3 712.1,859.5 714.0,858.3 714.8,856.4 715.6,854.6 718.0,854.4 720.1,853.0 722.5,852.9 723.5,851.2 724.1,849.4 724.8,847.6 725.8,845.9 726.9,844.3 727.5,842.5 728.4,840.8 729.4,839.1 731.6,838.1 734.1,838.4 736.3,837.4 737.8,836.1 739.3,834.9 740.4,833.2 742.1,832.2 743.2,830.5 744.6,829.1 746.0,827.8 747.4,826.4 748.9,825.2 750.1,823.6 751.8,822.6 753.3,821.5 755.0,820.5 757.0,820.2 759.4,819.0 762.1,818.5 763.5,820.0 763.4,822.1 764.7,823.6 765.3,825.5 766.4,827.1 768.1,827.9 769.0,829.6 770.9,829.7 772.7,830.3 774.6,830.1 776.5,830.1 777.6,828.4 778.9,826.8 779.7,824.9 781.3,823.6 782.6,821.7 784.3,820.1 786.2,818.8 788.5,817.8 791.0,817.1 792.3,815.2 794.1,813.6 795.1,811.5 796.9,811.9 798.5,812.8 800.0,813.9 801.1,812.1 802.4,810.4 804.0,809.0 804.6,806.9 805.3,804.8 806.4,802.9 807.2,800.9 808.5,802.7 808.4,805.1 809.8,806.9 810.5,809.0 810.6,811.1 811.6,813.0 812.2,814.9 813.1,816.8 813.7,818.8 814.0,821.0 815.7,822.6 815.9,824.9 816.9,826.8 817.6,828.6 817.6,830.6 818.0,832.4 819.2,834.1 819.6,836.0 820.3,837.8 820.2,839.8 820.8,841.7 821.3,843.6 821.3,845.6 820.9,847.7 822.0,849.5 822.3,851.4 822.5,853.4 823.0,855.3 822.8,857.3 823.4,859.2 824.3,857.3 824.3,855.2 825.1,853.3 826.2,851.5 826.7,849.5 827.6,847.8 827.6,845.9 827.7,844.1 828.7,842.4 827.9,840.4 828.3,838.6 829.5,837.0 829.4,835.1 829.9,833.3 830.2,831.2 831.6,829.4 832.8,827.7 833.1,825.5 833.9,823.6 835.1,821.9 836.3,820.1 838.0,818.8 839.9,819.4 841.0,821.3 842.9,822.0 843.7,820.1 845.0,818.4 844.8,816.1 845.8,814.3 846.4,812.4 847.7,810.7 849.2,809.4 850.9,808.2 852.9,809.5 854.2,811.5 854.5,809.4 855.2,807.5 855.7,805.5 856.0,803.5 856.5,801.5 858.2,799.8 858.2,797.7 859.3,795.9 860.9,794.5 862.3,792.9 864.7,792.8 867.1,792.9 867.6,791.1 867.5,789.2 868.3,787.4 868.5,785.6 869.4,783.9 870.3,782.2 870.4,780.3 871.2,778.6 871.2,776.7 873.4,778.0 875.2,779.9 877.0,779.1 879.0,779.4 880.9,779.1 881.9,780.9 882.8,782.7 884.0,784.4 884.7,786.3 885.8,788.0 887.0,789.8 888.2,791.6 890.2,792.7 891.4,794.5 892.3,796.1 892.7,797.9 894.1,799.2 895.1,800.8 895.7,802.5 896.3,804.2" fill="none" stroke="#0000ff" stroke-width="2.9" stroke-linejoin="round"/>
<text x="557.9" y="667.8" font-size="27.5" fill="#2200cc" text-anchor="start" font-weight="normal" textLength="149.5" lengthAdjust="spacingAndGlyphs">Ramp-down</text>
<line x1="498.8" y1="691.5" x2="535" y2="676.3" stroke="#0000d0" stroke-width="2.2"/>
<polygon points="542.2,672.8 531.1,672.1 535.4,681" fill="#0000d0"/>
<text x="656.5" y="703.9" font-size="27.5" fill="#000" text-anchor="start" font-weight="normal" textLength="112" lengthAdjust="spacingAndGlyphs">Ramp-up</text>
<line x1="747.9" y1="767.2" x2="731" y2="728" stroke="#000" stroke-width="2.1"/>
<polygon points="727.3,719.6 726.2,730.8 736,726.4" fill="#000"/>
<g filter="url(#sh)" opacity="0.7" transform="translate(-1.5,3.5)"><polygon points="738.1,276.9 738.5,276.8 739.1,276.6 739.8,276.3 740.5,276.0 741.3,275.7 742.1,275.4 742.9,275.1 743.8,274.7 744.7,274.4 745.5,274.1 746.3,273.9 747.1,273.7 747.9,273.5 748.7,273.3 749.5,273.1 750.4,272.9 751.2,272.8 752.0,272.6 752.9,272.5 753.7,272.3 754.6,272.2 755.4,272.1 756.3,272.0 757.1,271.9 758.0,271.8 758.8,271.7 759.7,271.7 760.6,271.6 761.4,271.6 762.3,271.6 763.1,271.6 764.0,271.6 764.9,271.6 765.7,271.6 766.6,271.6 767.5,271.6 768.3,271.7 769.1,271.8 769.9,271.8 770.7,271.9 771.5,272.0 772.3,272.1 773.1,272.2 774.0,272.3 774.8,272.4 775.8,272.6 776.7,272.8 777.8,273.0 778.9,273.3 780.1,273.6 781.4,273.9 782.7,274.2 784.0,274.5 785.4,274.9 786.8,275.2 788.2,275.6 789.6,276.0 791.0,276.5 792.4,276.9 793.7,277.3 795.0,277.8 796.4,278.3 797.8,278.8 799.2,279.3 800.5,279.9 801.9,280.4 803.3,281.0 804.6,281.6 805.9,282.2 807.2,282.8 808.5,283.4 809.8,284.0 810.9,284.6 812.0,285.2 813.1,285.8 814.1,286.3 815.1,286.9 816.0,287.5 817.1,288.1 818.1,288.8 819.2,289.5 820.4,290.4 821.7,291.3 823.1,292.2 824.6,293.3 826.3,294.5 828.1,295.8 830.0,297.2 832.0,298.6 833.9,300.0 836.0,301.4 837.9,302.9 839.9,304.3 841.7,305.8 843.4,307.2 845.1,308.6 846.6,309.9 848.0,311.3 849.4,312.6 850.7,314.0 852.0,315.3 853.2,316.7 854.4,318.0 855.5,319.4 856.6,320.8 857.7,322.3 858.7,323.7 859.8,325.1 860.8,326.6 861.8,328.0 862.8,329.5 863.7,330.9 864.7,332.4 865.6,333.8 866.4,335.3 867.3,336.8 868.2,338.3 869.0,339.9 869.9,341.5 870.8,343.1 871.7,344.8 872.5,346.5 873.4,348.3 874.3,350.0 875.1,351.8 876.0,353.7 876.8,355.5 877.7,357.4 878.5,359.3 879.3,361.2 880.0,363.1 880.8,365.1 881.5,367.1 882.2,369.1 882.9,371.2 883.6,373.3 884.2,375.4 884.9,377.6 885.5,379.7 886.1,381.8 886.7,384.0 887.2,386.0 887.8,388.1 888.3,390.1 888.7,392.0 889.2,393.9 889.6,395.9 890.0,397.8 890.3,399.6 890.7,401.5 891.0,403.3 891.3,405.1 891.5,406.9 891.8,408.6 892.0,410.3 892.3,412.0 892.4,413.7 892.6,415.2 892.7,416.8 892.9,418.2 892.9,419.7 892.8,421.1 892.8,422.6 892.7,424.0 892.6,425.5 892.5,426.9 892.5,428.5 892.4,430.0 892.4,431.6 892.4,433.2 892.4,434.8 892.3,436.4 892.3,438.0 892.3,439.7 892.2,441.3 892.1,443.0 892.0,444.7 891.9,446.4 891.7,448.1 891.5,449.8 891.3,451.7 891.1,453.5 890.8,455.4 890.5,457.4 890.2,459.3 889.9,461.3 889.5,463.3 889.1,465.2 888.7,467.1 888.3,469.0 887.9,470.8 887.4,472.6 886.9,474.3 886.4,476.0 885.9,477.6 885.4,479.2 884.8,480.8 884.3,482.3 883.7,483.9 883.0,485.4 882.4,486.9 881.8,488.4 881.1,489.8 880.5,491.3 879.8,492.7 879.1,494.1 878.4,495.5 877.7,496.9 876.9,498.2 876.2,499.5 875.4,500.8 874.6,502.1 873.8,503.4 873.1,504.6 872.3,505.9 871.5,507.1 870.8,508.3 870.0,509.5 869.1,510.8 868.2,512.1 867.4,513.3 866.5,514.5 865.7,515.6 864.9,516.7 864.2,517.7 863.6,518.6 863.0,519.4 862.6,520.0 865.4,522.0 865.9,521.4 866.4,520.6 867.0,519.8 867.7,518.8 868.5,517.7 869.4,516.5 870.2,515.3 871.1,514.0 872.0,512.7 872.8,511.4 873.7,510.2 874.5,508.9 875.2,507.7 876.0,506.4 876.8,505.2 877.5,503.9 878.3,502.6 879.1,501.2 879.9,499.9 880.6,498.5 881.4,497.1 882.1,495.6 882.8,494.2 883.5,492.7 884.2,491.2 884.9,489.7 885.5,488.2 886.1,486.7 886.8,485.1 887.4,483.5 888.0,481.9 888.5,480.3 889.1,478.6 889.6,476.9 890.1,475.2 890.6,473.4 891.0,471.6 891.5,469.7 891.9,467.8 892.2,465.8 892.6,463.8 893.0,461.8 893.3,459.8 893.6,457.8 893.8,455.8 894.1,453.9 894.3,452.0 894.5,450.2 894.6,448.3 894.7,446.6 894.8,444.8 894.8,443.1 894.9,441.4 894.9,439.7 894.8,438.0 894.8,436.4 894.8,434.8 894.7,433.2 894.7,431.6 894.6,430.0 894.5,428.4 894.4,426.9 894.2,425.4 894.1,424.0 893.9,422.5 893.7,421.1 893.5,419.7 893.4,418.2 893.2,416.7 893.1,415.2 892.9,413.6 892.7,412.0 892.5,410.3 892.3,408.6 892.0,406.8 891.8,405.0 891.5,403.2 891.2,401.4 890.8,399.5 890.4,397.7 890.1,395.8 889.6,393.8 889.2,391.9 888.7,389.9 888.2,388.0 887.7,385.9 887.2,383.8 886.6,381.7 886.0,379.6 885.4,377.4 884.7,375.3 884.1,373.1 883.4,371.0 882.7,368.9 882.0,366.9 881.2,364.9 880.5,363.0 879.7,361.0 878.9,359.1 878.1,357.2 877.3,355.3 876.4,353.5 875.6,351.6 874.7,349.8 873.9,348.0 873.0,346.3 872.1,344.6 871.2,342.9 870.3,341.2 869.5,339.6 868.6,338.1 867.8,336.5 866.9,335.0 866.0,333.6 865.1,332.1 864.2,330.6 863.2,329.2 862.2,327.8 861.2,326.3 860.2,324.9 859.1,323.4 858.1,322.0 857.0,320.5 855.9,319.1 854.8,317.7 853.7,316.2 852.6,314.8 851.4,313.3 850.2,311.8 848.9,310.4 847.6,308.9 846.1,307.4 844.6,305.9 842.9,304.3 841.2,302.8 839.3,301.1 837.4,299.5 835.5,297.9 833.6,296.4 831.7,294.9 829.8,293.5 828.1,292.2 826.4,290.9 824.9,289.8 823.5,288.7 822.3,287.8 821.1,286.9 820.0,286.1 818.9,285.4 817.9,284.7 816.9,284.0 815.9,283.4 814.8,282.7 813.8,282.1 812.6,281.5 811.4,280.8 810.2,280.1 808.9,279.4 807.5,278.8 806.2,278.1 804.8,277.5 803.4,276.9 802.0,276.3 800.6,275.7 799.2,275.1 797.8,274.5 796.5,274.0 795.1,273.5 793.7,272.9 792.3,272.5 790.9,272.0 789.4,271.5 788.0,271.1 786.6,270.6 785.2,270.2 783.8,269.9 782.5,269.5 781.2,269.2 780.0,268.8 778.8,268.6 777.7,268.3 776.7,268.1 775.7,267.9 774.7,267.7 773.8,267.6 772.9,267.4 772.1,267.3 771.2,267.2 770.4,267.2 769.5,267.1 768.6,267.0 767.7,267.0 766.8,266.9 765.9,266.9 765.0,266.8 764.0,266.8 763.1,266.8 762.2,266.8 761.3,266.8 760.3,266.9 759.4,266.9 758.5,267.0 757.6,267.0 756.7,267.1 755.8,267.2 754.8,267.3 753.9,267.4 753.0,267.5 752.1,267.7 751.2,267.8 750.3,268.0 749.4,268.1 748.5,268.3 747.6,268.5 746.7,268.7 745.9,268.9 745.0,269.2 744.0,269.5 743.1,269.8 742.1,270.1 741.2,270.4 740.3,270.7 739.5,271.1 738.7,271.4 737.9,271.7 737.3,271.9 736.8,272.1 736.3,272.3" fill="#666"/><polygon points="854.3,499.1 842.6,533.7 872.4,543.5" fill="#666"/></g>
<polygon points="738.1,276.9 738.5,276.8 739.1,276.6 739.8,276.3 740.5,276.0 741.3,275.7 742.1,275.4 742.9,275.1 743.8,274.7 744.7,274.4 745.5,274.1 746.3,273.9 747.1,273.7 747.9,273.5 748.7,273.3 749.5,273.1 750.4,272.9 751.2,272.8 752.0,272.6 752.9,272.5 753.7,272.3 754.6,272.2 755.4,272.1 756.3,272.0 757.1,271.9 758.0,271.8 758.8,271.7 759.7,271.7 760.6,271.6 761.4,271.6 762.3,271.6 763.1,271.6 764.0,271.6 764.9,271.6 765.7,271.6 766.6,271.6 767.5,271.6 768.3,271.7 769.1,271.8 769.9,271.8 770.7,271.9 771.5,272.0 772.3,272.1 773.1,272.2 774.0,272.3 774.8,272.4 775.8,272.6 776.7,272.8 777.8,273.0 778.9,273.3 780.1,273.6 781.4,273.9 782.7,274.2 784.0,274.5 785.4,274.9 786.8,275.2 788.2,275.6 789.6,276.0 791.0,276.5 792.4,276.9 793.7,277.3 795.0,277.8 796.4,278.3 797.8,278.8 799.2,279.3 800.5,279.9 801.9,280.4 803.3,281.0 804.6,281.6 805.9,282.2 807.2,282.8 808.5,283.4 809.8,284.0 810.9,284.6 812.0,285.2 813.1,285.8 814.1,286.3 815.1,286.9 816.0,287.5 817.1,288.1 818.1,288.8 819.2,289.5 820.4,290.4 821.7,291.3 823.1,292.2 824.6,293.3 826.3,294.5 828.1,295.8 830.0,297.2 832.0,298.6 833.9,300.0 836.0,301.4 837.9,302.9 839.9,304.3 841.7,305.8 843.4,307.2 845.1,308.6 846.6,309.9 848.0,311.3 849.4,312.6 850.7,314.0 852.0,315.3 853.2,316.7 854.4,318.0 855.5,319.4 856.6,320.8 857.7,322.3 858.7,323.7 859.8,325.1 860.8,326.6 861.8,328.0 862.8,329.5 863.7,330.9 864.7,332.4 865.6,333.8 866.4,335.3 867.3,336.8 868.2,338.3 869.0,339.9 869.9,341.5 870.8,343.1 871.7,344.8 872.5,346.5 873.4,348.3 874.3,350.0 875.1,351.8 876.0,353.7 876.8,355.5 877.7,357.4 878.5,359.3 879.3,361.2 880.0,363.1 880.8,365.1 881.5,367.1 882.2,369.1 882.9,371.2 883.6,373.3 884.2,375.4 884.9,377.6 885.5,379.7 886.1,381.8 886.7,384.0 887.2,386.0 887.8,388.1 888.3,390.1 888.7,392.0 889.2,393.9 889.6,395.9 890.0,397.8 890.3,399.6 890.7,401.5 891.0,403.3 891.3,405.1 891.5,406.9 891.8,408.6 892.0,410.3 892.3,412.0 892.4,413.7 892.6,415.2 892.7,416.8 892.9,418.2 892.9,419.7 892.8,421.1 892.8,422.6 892.7,424.0 892.6,425.5 892.5,426.9 892.5,428.5 892.4,430.0 892.4,431.6 892.4,433.2 892.4,434.8 892.3,436.4 892.3,438.0 892.3,439.7 892.2,441.3 892.1,443.0 892.0,444.7 891.9,446.4 891.7,448.1 891.5,449.8 891.3,451.7 891.1,453.5 890.8,455.4 890.5,457.4 890.2,459.3 889.9,461.3 889.5,463.3 889.1,465.2 888.7,467.1 888.3,469.0 887.9,470.8 887.4,472.6 886.9,474.3 886.4,476.0 885.9,477.6 885.4,479.2 884.8,480.8 884.3,482.3 883.7,483.9 883.0,485.4 882.4,486.9 881.8,488.4 881.1,489.8 880.5,491.3 879.8,492.7 879.1,494.1 878.4,495.5 877.7,496.9 876.9,498.2 876.2,499.5 875.4,500.8 874.6,502.1 873.8,503.4 873.1,504.6 872.3,505.9 871.5,507.1 870.8,508.3 870.0,509.5 869.1,510.8 868.2,512.1 867.4,513.3 866.5,514.5 865.7,515.6 864.9,516.7 864.2,517.7 863.6,518.6 863.0,519.4 862.6,520.0 865.4,522.0 865.9,521.4 866.4,520.6 867.0,519.8 867.7,518.8 868.5,517.7 869.4,516.5 870.2,515.3 871.1,514.0 872.0,512.7 872.8,511.4 873.7,510.2 874.5,508.9 875.2,507.7 876.0,506.4 876.8,505.2 877.5,503.9 878.3,502.6 879.1,501.2 879.9,499.9 880.6,498.5 881.4,497.1 882.1,495.6 882.8,494.2 883.5,492.7 884.2,491.2 884.9,489.7 885.5,488.2 886.1,486.7 886.8,485.1 887.4,483.5 888.0,481.9 888.5,480.3 889.1,478.6 889.6,476.9 890.1,475.2 890.6,473.4 891.0,471.6 891.5,469.7 891.9,467.8 892.2,465.8 892.6,463.8 893.0,461.8 893.3,459.8 893.6,457.8 893.8,455.8 894.1,453.9 894.3,452.0 894.5,450.2 894.6,448.3 894.7,446.6 894.8,444.8 894.8,443.1 894.9,441.4 894.9,439.7 894.8,438.0 894.8,436.4 894.8,434.8 894.7,433.2 894.7,431.6 894.6,430.0 894.5,428.4 894.4,426.9 894.2,425.4 894.1,424.0 893.9,422.5 893.7,421.1 893.5,419.7 893.4,418.2 893.2,416.7 893.1,415.2 892.9,413.6 892.7,412.0 892.5,410.3 892.3,408.6 892.0,406.8 891.8,405.0 891.5,403.2 891.2,401.4 890.8,399.5 890.4,397.7 890.1,395.8 889.6,393.8 889.2,391.9 888.7,389.9 888.2,388.0 887.7,385.9 887.2,383.8 886.6,381.7 886.0,379.6 885.4,377.4 884.7,375.3 884.1,373.1 883.4,371.0 882.7,368.9 882.0,366.9 881.2,364.9 880.5,363.0 879.7,361.0 878.9,359.1 878.1,357.2 877.3,355.3 876.4,353.5 875.6,351.6 874.7,349.8 873.9,348.0 873.0,346.3 872.1,344.6 871.2,342.9 870.3,341.2 869.5,339.6 868.6,338.1 867.8,336.5 866.9,335.0 866.0,333.6 865.1,332.1 864.2,330.6 863.2,329.2 862.2,327.8 861.2,326.3 860.2,324.9 859.1,323.4 858.1,322.0 857.0,320.5 855.9,319.1 854.8,317.7 853.7,316.2 852.6,314.8 851.4,313.3 850.2,311.8 848.9,310.4 847.6,308.9 846.1,307.4 844.6,305.9 842.9,304.3 841.2,302.8 839.3,301.1 837.4,299.5 835.5,297.9 833.6,296.4 831.7,294.9 829.8,293.5 828.1,292.2 826.4,290.9 824.9,289.8 823.5,288.7 822.3,287.8 821.1,286.9 820.0,286.1 818.9,285.4 817.9,284.7 816.9,284.0 815.9,283.4 814.8,282.7 813.8,282.1 812.6,281.5 811.4,280.8 810.2,280.1 808.9,279.4 807.5,278.8 806.2,278.1 804.8,277.5 803.4,276.9 802.0,276.3 800.6,275.7 799.2,275.1 797.8,274.5 796.5,274.0 795.1,273.5 793.7,272.9 792.3,272.5 790.9,272.0 789.4,271.5 788.0,271.1 786.6,270.6 785.2,270.2 783.8,269.9 782.5,269.5 781.2,269.2 780.0,268.8 778.8,268.6 777.7,268.3 776.7,268.1 775.7,267.9 774.7,267.7 773.8,267.6 772.9,267.4 772.1,267.3 771.2,267.2 770.4,267.2 769.5,267.1 768.6,267.0 767.7,267.0 766.8,266.9 765.9,266.9 765.0,266.8 764.0,266.8 763.1,266.8 762.2,266.8 761.3,266.8 760.3,266.9 759.4,266.9 758.5,267.0 757.6,267.0 756.7,267.1 755.8,267.2 754.8,267.3 753.9,267.4 753.0,267.5 752.1,267.7 751.2,267.8 750.3,268.0 749.4,268.1 748.5,268.3 747.6,268.5 746.7,268.7 745.9,268.9 745.0,269.2 744.0,269.5 743.1,269.8 742.1,270.1 741.2,270.4 740.3,270.7 739.5,271.1 738.7,271.4 737.9,271.7 737.3,271.9 736.8,272.1 736.3,272.3" fill="url(#gr)" stroke="none"/>
<polyline points="834.7,299.0 836.7,300.5 838.6,302.0 840.5,303.6 842.3,305.1 844.0,306.6 845.6,308.0 847.1,309.4 848.5,310.8 849.8,312.2 851.1,313.6 852.3,315.0" fill="none" stroke="#8a8a8a" stroke-width="1.6"/>
<polyline points="893.5,430.0 893.5,431.6 893.5,433.2 893.6,434.8 893.6,436.4 893.6,438.0 893.6,439.7 893.5,441.4 893.5,443.0 893.4,444.7 893.3,446.5" fill="none" stroke="#777" stroke-width="2.0"/>
<polyline points="738.1,276.9 738.5,276.8 739.1,276.6 739.8,276.3 740.5,276.0 741.3,275.7 742.1,275.4 742.9,275.1 743.8,274.7 744.7,274.4 745.5,274.1 746.3,273.9 747.1,273.7 747.9,273.5 748.7,273.3 749.5,273.1 750.4,272.9 751.2,272.8 752.0,272.6 752.9,272.5 753.7,272.3 754.6,272.2 755.4,272.1 756.3,272.0 757.1,271.9 758.0,271.8 758.8,271.7 759.7,271.7 760.6,271.6 761.4,271.6 762.3,271.6 763.1,271.6 764.0,271.6 764.9,271.6 765.7,271.6 766.6,271.6 767.5,271.6 768.3,271.7 769.1,271.8 769.9,271.8 770.7,271.9 771.5,272.0 772.3,272.1 773.1,272.2 774.0,272.3 774.8,272.4 775.8,272.6 776.7,272.8 777.8,273.0 778.9,273.3 780.1,273.6 781.4,273.9 782.7,274.2 784.0,274.5 785.4,274.9 786.8,275.2 788.2,275.6 789.6,276.0 791.0,276.5 792.4,276.9 793.7,277.3 795.0,277.8 796.4,278.3 797.8,278.8 799.2,279.3 800.5,279.9 801.9,280.4 803.3,281.0 804.6,281.6 805.9,282.2 807.2,282.8 808.5,283.4 809.8,284.0 810.9,284.6 812.0,285.2 813.1,285.8 814.1,286.3 815.1,286.9 816.0,287.5 817.1,288.1 818.1,288.8 819.2,289.5 820.4,290.4 821.7,291.3 823.1,292.2 824.6,293.3 826.3,294.5 828.1,295.8 830.0,297.2 832.0,298.6 833.9,300.0 836.0,301.4 837.9,302.9 839.9,304.3 841.7,305.8 843.4,307.2 845.1,308.6 846.6,309.9 848.0,311.3 849.4,312.6 850.7,314.0 852.0,315.3 853.2,316.7 854.4,318.0 855.5,319.4 856.6,320.8 857.7,322.3 858.7,323.7 859.8,325.1 860.8,326.6 861.8,328.0 862.8,329.5 863.7,330.9 864.7,332.4 865.6,333.8 866.4,335.3 867.3,336.8 868.2,338.3 869.0,339.9 869.9,341.5 870.8,343.1 871.7,344.8 872.5,346.5 873.4,348.3 874.3,350.0 875.1,351.8 876.0,353.7 876.8,355.5 877.7,357.4 878.5,359.3 879.3,361.2 880.0,363.1 880.8,365.1 881.5,367.1 882.2,369.1 882.9,371.2 883.6,373.3 884.2,375.4 884.9,377.6 885.5,379.7 886.1,381.8 886.7,384.0 887.2,386.0 887.8,388.1 888.3,390.1 888.7,392.0 889.2,393.9 889.6,395.9 890.0,397.8 890.3,399.6 890.7,401.5 891.0,403.3 891.3,405.1 891.5,406.9 891.8,408.6 892.0,410.3 892.3,412.0 892.4,413.7 892.6,415.2 892.7,416.8 892.9,418.2 892.9,419.7 892.8,421.1 892.8,422.6 892.7,424.0 892.6,425.5 892.5,426.9 892.5,428.5 892.4,430.0 892.4,431.6 892.4,433.2 892.4,434.8 892.3,436.4 892.3,438.0 892.3,439.7 892.2,441.3 892.1,443.0 892.0,444.7 891.9,446.4 891.7,448.1 891.5,449.8 891.3,451.7 891.1,453.5 890.8,455.4 890.5,457.4 890.2,459.3 889.9,461.3 889.5,463.3 889.1,465.2 888.7,467.1 888.3,469.0 887.9,470.8 887.4,472.6 886.9,474.3 886.4,476.0 885.9,477.6 885.4,479.2 884.8,480.8 884.3,482.3 883.7,483.9 883.0,485.4 882.4,486.9 881.8,488.4 881.1,489.8 880.5,491.3 879.8,492.7 879.1,494.1 878.4,495.5 877.7,496.9 876.9,498.2 876.2,499.5 875.4,500.8 874.6,502.1 873.8,503.4 873.1,504.6 872.3,505.9 871.5,507.1 870.8,508.3 870.0,509.5 869.1,510.8 868.2,512.1 867.4,513.3 866.5,514.5 865.7,515.6 864.9,516.7 864.2,517.7 863.6,518.6 863.0,519.4 862.6,520.0" fill="none" stroke="#333" stroke-width="1.1"/>
<polyline points="736.3,272.3 736.8,272.1 737.3,271.9 737.9,271.7 738.7,271.4 739.5,271.1 740.3,270.7 741.2,270.4 742.1,270.1 743.1,269.8 744.0,269.5 745.0,269.2 745.9,268.9 746.7,268.7 747.6,268.5 748.5,268.3 749.4,268.1 750.3,268.0 751.2,267.8 752.1,267.7 753.0,267.5 753.9,267.4 754.8,267.3 755.8,267.2 756.7,267.1 757.6,267.0 758.5,267.0 759.4,266.9 760.3,266.9 761.3,266.8 762.2,266.8 763.1,266.8 764.0,266.8 765.0,266.8 765.9,266.9 766.8,266.9 767.7,267.0 768.6,267.0 769.5,267.1 770.4,267.2 771.2,267.2 772.1,267.3 772.9,267.4 773.8,267.6 774.7,267.7 775.7,267.9 776.7,268.1 777.7,268.3 778.8,268.6 780.0,268.8 781.2,269.2 782.5,269.5 783.8,269.9 785.2,270.2 786.6,270.6 788.0,271.1 789.4,271.5 790.9,272.0 792.3,272.5 793.7,272.9 795.1,273.5 796.5,274.0 797.8,274.5 799.2,275.1 800.6,275.7 802.0,276.3 803.4,276.9 804.8,277.5 806.2,278.1 807.5,278.8 808.9,279.4 810.2,280.1 811.4,280.8 812.6,281.5 813.8,282.1 814.8,282.7 815.9,283.4 816.9,284.0 817.9,284.7 818.9,285.4 820.0,286.1 821.1,286.9 822.3,287.8 823.5,288.7 824.9,289.8 826.4,290.9 828.1,292.2 829.8,293.5 831.7,294.9 833.6,296.4 835.5,297.9 837.4,299.5 839.3,301.1 841.2,302.8 842.9,304.3 844.6,305.9 846.1,307.4 847.6,308.9 848.9,310.4 850.2,311.8 851.4,313.3 852.6,314.8 853.7,316.2 854.8,317.7 855.9,319.1 857.0,320.5 858.1,322.0 859.1,323.4 860.2,324.9 861.2,326.3 862.2,327.8 863.2,329.2 864.2,330.6 865.1,332.1 866.0,333.6 866.9,335.0 867.8,336.5 868.6,338.1 869.5,339.6 870.3,341.2 871.2,342.9 872.1,344.6 873.0,346.3 873.9,348.0 874.7,349.8 875.6,351.6 876.4,353.5 877.3,355.3 878.1,357.2 878.9,359.1 879.7,361.0 880.5,363.0 881.2,364.9 882.0,366.9 882.7,368.9 883.4,371.0 884.1,373.1 884.7,375.3 885.4,377.4 886.0,379.6 886.6,381.7 887.2,383.8 887.7,385.9 888.2,388.0 888.7,389.9 889.2,391.9 889.6,393.8 890.1,395.8 890.4,397.7 890.8,399.5 891.2,401.4 891.5,403.2 891.8,405.0 892.0,406.8 892.3,408.6 892.5,410.3 892.7,412.0 892.9,413.6 893.1,415.2 893.2,416.7 893.4,418.2 893.5,419.7 893.7,421.1 893.9,422.5 894.1,424.0 894.2,425.4 894.4,426.9 894.5,428.4 894.6,430.0 894.7,431.6 894.7,433.2 894.8,434.8 894.8,436.4 894.8,438.0 894.9,439.7 894.9,441.4 894.8,443.1 894.8,444.8 894.7,446.6 894.6,448.3 894.5,450.2 894.3,452.0 894.1,453.9 893.8,455.8 893.6,457.8 893.3,459.8 893.0,461.8 892.6,463.8 892.2,465.8 891.9,467.8 891.5,469.7 891.0,471.6 890.6,473.4 890.1,475.2 889.6,476.9 889.1,478.6 888.5,480.3 888.0,481.9 887.4,483.5 886.8,485.1 886.1,486.7 885.5,488.2 884.9,489.7 884.2,491.2 883.5,492.7 882.8,494.2 882.1,495.6 881.4,497.1 880.6,498.5 879.9,499.9 879.1,501.2 878.3,502.6 877.5,503.9 876.8,505.2 876.0,506.4 875.2,507.7 874.5,508.9 873.7,510.2 872.8,511.4 872.0,512.7 871.1,514.0 870.2,515.3 869.4,516.5 868.5,517.7 867.7,518.8 867.0,519.8 866.4,520.6 865.9,521.4 865.4,522.0" fill="none" stroke="#333" stroke-width="1.1"/>
<line x1="738.1" y1="276.9" x2="736.3" y2="272.3" stroke="#333" stroke-width="1.1"/>
<polygon points="854.3,499.1 842.6,533.7 872.4,543.5" fill="#fff" stroke="none"/>
<polyline points="862.6,520.0 854.3,499.1 842.6,533.7 872.4,543.5 865.4,522.0" fill="none" stroke="#333" stroke-width="1.2" stroke-linejoin="miter"/>
<g filter="url(#sh)" opacity="0.7" transform="translate(1.5,3.5)"><polygon points="341.3,287.6 340.7,287.5 339.9,287.4 339.0,287.2 338.0,287.1 337.0,286.9 335.8,286.7 334.6,286.5 333.4,286.3 332.2,286.1 331.0,286.0 329.8,285.8 328.7,285.7 327.7,285.7 326.7,285.6 325.7,285.5 324.7,285.5 323.7,285.5 322.7,285.4 321.7,285.4 320.7,285.5 319.7,285.5 318.6,285.6 317.6,285.7 316.6,285.8 315.6,285.9 314.6,286.1 313.6,286.3 312.6,286.5 311.5,286.7 310.5,286.9 309.5,287.2 308.5,287.5 307.5,287.8 306.5,288.1 305.5,288.4 304.5,288.8 303.5,289.1 302.5,289.5 301.5,289.9 300.5,290.3 299.6,290.7 298.6,291.2 297.6,291.7 296.6,292.1 295.6,292.7 294.6,293.2 293.5,293.8 292.5,294.4 291.4,295.1 290.4,295.8 289.3,296.5 288.2,297.3 287.1,298.1 286.0,298.9 284.9,299.7 283.8,300.5 282.7,301.3 281.6,302.2 280.6,303.0 279.6,303.8 278.6,304.6 277.6,305.4 276.7,306.2 275.8,307.0 274.8,307.9 273.9,308.7 273.0,309.5 272.2,310.3 271.3,311.1 270.4,312.0 269.5,312.8 268.7,313.6 267.8,314.4 266.9,315.2 266.0,316.1 265.2,316.9 264.3,317.7 263.5,318.6 262.6,319.4 261.8,320.3 261.0,321.1 260.2,321.9 259.4,322.8 258.6,323.6 257.9,324.5 257.1,325.3 256.4,326.1 255.7,326.9 255.0,327.8 254.4,328.6 253.7,329.4 253.1,330.2 252.4,331.1 251.7,331.9 251.1,332.7 250.4,333.5 249.8,334.3 249.1,335.1 248.6,335.8 248.0,336.5 247.4,337.1 246.8,337.9 246.2,338.6 245.6,339.5 245.0,340.4 244.3,341.4 243.5,342.6 242.7,343.9 241.8,345.4 240.8,347.0 239.8,348.9 238.7,350.8 237.6,352.8 236.4,354.9 235.3,357.0 234.2,359.1 233.0,361.2 232.0,363.2 230.9,365.1 230.0,366.9 229.1,368.6 228.2,370.2 227.3,371.7 226.5,373.3 225.7,374.7 224.9,376.2 224.1,377.6 223.4,379.1 222.6,380.5 221.9,381.9 221.2,383.3 220.6,384.7 219.9,386.1 219.3,387.5 218.7,388.9 218.1,390.2 217.6,391.6 217.0,392.9 216.5,394.2 216.0,395.6 215.5,396.9 215.0,398.2 214.5,399.6 214.1,400.9 213.6,402.3 213.1,403.6 212.7,405.0 212.3,406.3 211.9,407.7 211.5,409.0 211.1,410.4 210.7,411.7 210.3,413.1 209.9,414.4 209.5,415.8 209.2,417.1 208.8,418.5 208.4,419.8 208.1,421.2 207.7,422.5 207.4,423.9 207.1,425.2 206.7,426.6 206.4,427.9 206.1,429.3 205.8,430.6 205.5,432.0 205.2,433.3 204.9,434.7 204.5,436.0 204.2,437.4 203.9,438.7 203.6,440.1 203.4,441.5 203.1,442.8 202.8,444.2 202.5,445.5 202.3,446.9 202.1,448.2 201.9,449.6 201.7,450.9 201.5,452.3 201.3,453.6 201.1,454.9 201.0,456.3 200.9,457.6 200.7,459.0 200.6,460.3 200.5,461.6 200.4,463.0 200.3,464.3 200.3,465.7 200.2,467.0 200.1,468.4 200.1,469.7 200.0,471.0 200.0,472.4 199.9,473.7 199.9,475.1 199.8,476.4 199.8,477.8 199.8,479.2 199.8,480.6 199.8,482.0 199.8,483.4 199.8,484.9 199.8,486.4 199.8,487.9 199.8,489.4 199.8,490.9 199.9,492.4 199.9,494.0 200.0,495.5 200.1,497.0 200.2,498.6 200.3,500.1 200.5,501.7 200.7,503.2 200.9,504.8 201.2,506.4 201.4,508.0 201.7,509.6 202.0,511.2 202.3,512.8 202.7,514.3 203.0,515.8 203.4,517.3 203.8,518.7 204.2,520.0 204.7,521.4 205.1,522.6 205.6,523.9 206.1,525.1 206.7,526.2 207.2,527.4 207.8,528.5 208.3,529.7 208.9,530.8 209.5,531.9 210.1,533.0 210.8,534.2 211.5,535.4 212.3,536.7 213.1,537.9 213.9,539.2 214.7,540.4 215.5,541.6 216.3,542.7 217.0,543.7 217.6,544.5 218.1,545.3 218.5,545.9 221.1,544.1 220.7,543.5 220.2,542.7 219.5,541.8 218.8,540.9 218.1,539.8 217.3,538.7 216.4,537.5 215.6,536.3 214.8,535.1 214.0,533.9 213.3,532.7 212.7,531.6 212.1,530.5 211.4,529.4 210.9,528.3 210.3,527.2 209.7,526.2 209.2,525.1 208.6,523.9 208.1,522.8 207.6,521.6 207.1,520.4 206.7,519.2 206.2,517.9 205.8,516.6 205.3,515.2 204.9,513.7 204.5,512.2 204.2,510.7 203.8,509.2 203.5,507.6 203.1,506.1 202.8,504.5 202.6,502.9 202.3,501.4 202.1,499.9 201.8,498.4 201.7,496.9 201.5,495.4 201.4,493.9 201.3,492.4 201.2,490.8 201.1,489.3 201.0,487.8 201.0,486.4 200.9,484.9 200.9,483.4 200.8,482.0 200.7,480.6 200.7,479.2 200.7,477.8 200.6,476.4 200.6,475.1 200.6,473.7 200.6,472.4 200.6,471.1 200.6,469.7 200.6,468.4 200.7,467.1 200.7,465.7 200.8,464.4 200.9,463.0 201.0,461.7 201.1,460.3 201.2,459.0 201.4,457.7 201.5,456.3 201.6,455.0 201.8,453.7 202.0,452.3 202.2,451.0 202.3,449.6 202.6,448.3 202.8,446.9 203.0,445.6 203.3,444.3 203.6,442.9 203.8,441.6 204.1,440.2 204.4,438.9 204.7,437.5 205.0,436.2 205.3,434.8 205.6,433.5 205.9,432.1 206.3,430.8 206.6,429.4 206.9,428.1 207.2,426.7 207.5,425.4 207.9,424.0 208.2,422.7 208.6,421.3 208.9,420.0 209.3,418.6 209.6,417.3 210.0,415.9 210.4,414.6 210.8,413.2 211.1,411.9 211.5,410.5 211.9,409.2 212.3,407.8 212.8,406.5 213.2,405.1 213.6,403.8 214.1,402.4 214.5,401.1 215.0,399.7 215.5,398.4 216.0,397.1 216.5,395.7 217.0,394.4 217.5,393.1 218.0,391.8 218.6,390.4 219.2,389.1 219.8,387.7 220.4,386.3 221.0,384.9 221.7,383.5 222.4,382.1 223.1,380.7 223.8,379.3 224.6,377.9 225.3,376.4 226.1,375.0 226.9,373.5 227.8,372.0 228.6,370.4 229.5,368.8 230.4,367.1 231.4,365.3 232.4,363.4 233.5,361.4 234.6,359.4 235.7,357.3 236.9,355.2 238.0,353.1 239.1,351.0 240.2,349.1 241.3,347.3 242.2,345.6 243.1,344.1 243.9,342.8 244.7,341.7 245.4,340.7 246.0,339.8 246.6,338.9 247.2,338.2 247.8,337.5 248.4,336.8 248.9,336.1 249.5,335.4 250.1,334.7 250.8,333.9 251.5,333.0 252.1,332.2 252.8,331.4 253.5,330.6 254.2,329.8 254.9,329.0 255.6,328.3 256.3,327.5 257.1,326.7 257.8,325.9 258.6,325.2 259.4,324.4 260.2,323.6 261.0,322.8 261.9,322.0 262.8,321.3 263.6,320.5 264.5,319.7 265.4,318.9 266.3,318.2 267.2,317.4 268.1,316.6 269.0,315.8 269.9,315.0 270.8,314.2 271.7,313.4 272.6,312.6 273.5,311.8 274.4,311.0 275.3,310.2 276.2,309.5 277.2,308.7 278.1,307.9 279.1,307.1 280.0,306.4 281.0,305.6 282.0,304.8 283.1,304.1 284.1,303.3 285.2,302.5 286.3,301.7 287.4,300.9 288.5,300.2 289.6,299.4 290.7,298.7 291.8,298.0 292.9,297.4 293.9,296.8 294.9,296.2 295.9,295.7 296.9,295.2 297.8,294.7 298.8,294.3 299.8,293.8 300.7,293.4 301.7,293.1 302.6,292.7 303.6,292.3 304.5,292.0 305.5,291.6 306.5,291.3 307.4,291.0 308.4,290.7 309.4,290.4 310.3,290.1 311.3,289.9 312.2,289.7 313.2,289.5 314.1,289.3 315.1,289.1 316.0,289.0 317.0,288.8 317.9,288.7 318.9,288.7 319.8,288.6 320.8,288.6 321.7,288.5 322.6,288.6 323.6,288.6 324.6,288.6 325.5,288.7 326.5,288.7 327.5,288.8 328.5,288.9 329.5,289.0 330.6,289.1 331.7,289.2 332.9,289.4 334.1,289.6 335.3,289.8 336.4,290.0 337.5,290.2 338.5,290.4 339.4,290.5 340.1,290.7 340.7,290.8" fill="#666"/><polygon points="227.3,527.4 236.4,556.0 213.7,562.4" fill="#666"/></g>
<polygon points="341.3,287.6 340.7,287.5 339.9,287.4 339.0,287.2 338.0,287.1 337.0,286.9 335.8,286.7 334.6,286.5 333.4,286.3 332.2,286.1 331.0,286.0 329.8,285.8 328.7,285.7 327.7,285.7 326.7,285.6 325.7,285.5 324.7,285.5 323.7,285.5 322.7,285.4 321.7,285.4 320.7,285.5 319.7,285.5 318.6,285.6 317.6,285.7 316.6,285.8 315.6,285.9 314.6,286.1 313.6,286.3 312.6,286.5 311.5,286.7 310.5,286.9 309.5,287.2 308.5,287.5 307.5,287.8 306.5,288.1 305.5,288.4 304.5,288.8 303.5,289.1 302.5,289.5 301.5,289.9 300.5,290.3 299.6,290.7 298.6,291.2 297.6,291.7 296.6,292.1 295.6,292.7 294.6,293.2 293.5,293.8 292.5,294.4 291.4,295.1 290.4,295.8 289.3,296.5 288.2,297.3 287.1,298.1 286.0,298.9 284.9,299.7 283.8,300.5 282.7,301.3 281.6,302.2 280.6,303.0 279.6,303.8 278.6,304.6 277.6,305.4 276.7,306.2 275.8,307.0 274.8,307.9 273.9,308.7 273.0,309.5 272.2,310.3 271.3,311.1 270.4,312.0 269.5,312.8 268.7,313.6 267.8,314.4 266.9,315.2 266.0,316.1 265.2,316.9 264.3,317.7 263.5,318.6 262.6,319.4 261.8,320.3 261.0,321.1 260.2,321.9 259.4,322.8 258.6,323.6 257.9,324.5 257.1,325.3 256.4,326.1 255.7,326.9 255.0,327.8 254.4,328.6 253.7,329.4 253.1,330.2 252.4,331.1 251.7,331.9 251.1,332.7 250.4,333.5 249.8,334.3 249.1,335.1 248.6,335.8 248.0,336.5 247.4,337.1 246.8,337.9 246.2,338.6 245.6,339.5 245.0,340.4 244.3,341.4 243.5,342.6 242.7,343.9 241.8,345.4 240.8,347.0 239.8,348.9 238.7,350.8 237.6,352.8 236.4,354.9 235.3,357.0 234.2,359.1 233.0,361.2 232.0,363.2 230.9,365.1 230.0,366.9 229.1,368.6 228.2,370.2 227.3,371.7 226.5,373.3 225.7,374.7 224.9,376.2 224.1,377.6 223.4,379.1 222.6,380.5 221.9,381.9 221.2,383.3 220.6,384.7 219.9,386.1 219.3,387.5 218.7,388.9 218.1,390.2 217.6,391.6 217.0,392.9 216.5,394.2 216.0,395.6 215.5,396.9 215.0,398.2 214.5,399.6 214.1,400.9 213.6,402.3 213.1,403.6 212.7,405.0 212.3,406.3 211.9,407.7 211.5,409.0 211.1,410.4 210.7,411.7 210.3,413.1 209.9,414.4 209.5,415.8 209.2,417.1 208.8,418.5 208.4,419.8 208.1,421.2 207.7,422.5 207.4,423.9 207.1,425.2 206.7,426.6 206.4,427.9 206.1,429.3 205.8,430.6 205.5,432.0 205.2,433.3 204.9,434.7 204.5,436.0 204.2,437.4 203.9,438.7 203.6,440.1 203.4,441.5 203.1,442.8 202.8,444.2 202.5,445.5 202.3,446.9 202.1,448.2 201.9,449.6 201.7,450.9 201.5,452.3 201.3,453.6 201.1,454.9 201.0,456.3 200.9,457.6 200.7,459.0 200.6,460.3 200.5,461.6 200.4,463.0 200.3,464.3 200.3,465.7 200.2,467.0 200.1,468.4 200.1,469.7 200.0,471.0 200.0,472.4 199.9,473.7 199.9,475.1 199.8,476.4 199.8,477.8 199.8,479.2 199.8,480.6 199.8,482.0 199.8,483.4 199.8,484.9 199.8,486.4 199.8,487.9 199.8,489.4 199.8,490.9 199.9,492.4 199.9,494.0 200.0,495.5 200.1,497.0 200.2,498.6 200.3,500.1 200.5,501.7 200.7,503.2 200.9,504.8 201.2,506.4 201.4,508.0 201.7,509.6 202.0,511.2 202.3,512.8 202.7,514.3 203.0,515.8 203.4,517.3 203.8,518.7 204.2,520.0 204.7,521.4 205.1,522.6 205.6,523.9 206.1,525.1 206.7,526.2 207.2,527.4 207.8,528.5 208.3,529.7 208.9,530.8 209.5,531.9 210.1,533.0 210.8,534.2 211.5,535.4 212.3,536.7 213.1,537.9 213.9,539.2 214.7,540.4 215.5,541.6 216.3,542.7 217.0,543.7 217.6,544.5 218.1,545.3 218.5,545.9 221.1,544.1 220.7,543.5 220.2,542.7 219.5,541.8 218.8,540.9 218.1,539.8 217.3,538.7 216.4,537.5 215.6,536.3 214.8,535.1 214.0,533.9 213.3,532.7 212.7,531.6 212.1,530.5 211.4,529.4 210.9,528.3 210.3,527.2 209.7,526.2 209.2,525.1 208.6,523.9 208.1,522.8 207.6,521.6 207.1,520.4 206.7,519.2 206.2,517.9 205.8,516.6 205.3,515.2 204.9,513.7 204.5,512.2 204.2,510.7 203.8,509.2 203.5,507.6 203.1,506.1 202.8,504.5 202.6,502.9 202.3,501.4 202.1,499.9 201.8,498.4 201.7,496.9 201.5,495.4 201.4,493.9 201.3,492.4 201.2,490.8 201.1,489.3 201.0,487.8 201.0,486.4 200.9,484.9 200.9,483.4 200.8,482.0 200.7,480.6 200.7,479.2 200.7,477.8 200.6,476.4 200.6,475.1 200.6,473.7 200.6,472.4 200.6,471.1 200.6,469.7 200.6,468.4 200.7,467.1 200.7,465.7 200.8,464.4 200.9,463.0 201.0,461.7 201.1,460.3 201.2,459.0 201.4,457.7 201.5,456.3 201.6,455.0 201.8,453.7 202.0,452.3 202.2,451.0 202.3,449.6 202.6,448.3 202.8,446.9 203.0,445.6 203.3,444.3 203.6,442.9 203.8,441.6 204.1,440.2 204.4,438.9 204.7,437.5 205.0,436.2 205.3,434.8 205.6,433.5 205.9,432.1 206.3,430.8 206.6,429.4 206.9,428.1 207.2,426.7 207.5,425.4 207.9,424.0 208.2,422.7 208.6,421.3 208.9,420.0 209.3,418.6 209.6,417.3 210.0,415.9 210.4,414.6 210.8,413.2 211.1,411.9 211.5,410.5 211.9,409.2 212.3,407.8 212.8,406.5 213.2,405.1 213.6,403.8 214.1,402.4 214.5,401.1 215.0,399.7 215.5,398.4 216.0,397.1 216.5,395.7 217.0,394.4 217.5,393.1 218.0,391.8 218.6,390.4 219.2,389.1 219.8,387.7 220.4,386.3 221.0,384.9 221.7,383.5 222.4,382.1 223.1,380.7 223.8,379.3 224.6,377.9 225.3,376.4 226.1,375.0 226.9,373.5 227.8,372.0 228.6,370.4 229.5,368.8 230.4,367.1 231.4,365.3 232.4,363.4 233.5,361.4 234.6,359.4 235.7,357.3 236.9,355.2 238.0,353.1 239.1,351.0 240.2,349.1 241.3,347.3 242.2,345.6 243.1,344.1 243.9,342.8 244.7,341.7 245.4,340.7 246.0,339.8 246.6,338.9 247.2,338.2 247.8,337.5 248.4,336.8 248.9,336.1 249.5,335.4 250.1,334.7 250.8,333.9 251.5,333.0 252.1,332.2 252.8,331.4 253.5,330.6 254.2,329.8 254.9,329.0 255.6,328.3 256.3,327.5 257.1,326.7 257.8,325.9 258.6,325.2 259.4,324.4 260.2,323.6 261.0,322.8 261.9,322.0 262.8,321.3 263.6,320.5 264.5,319.7 265.4,318.9 266.3,318.2 267.2,317.4 268.1,316.6 269.0,315.8 269.9,315.0 270.8,314.2 271.7,313.4 272.6,312.6 273.5,311.8 274.4,311.0 275.3,310.2 276.2,309.5 277.2,308.7 278.1,307.9 279.1,307.1 280.0,306.4 281.0,305.6 282.0,304.8 283.1,304.1 284.1,303.3 285.2,302.5 286.3,301.7 287.4,300.9 288.5,300.2 289.6,299.4 290.7,298.7 291.8,298.0 292.9,297.4 293.9,296.8 294.9,296.2 295.9,295.7 296.9,295.2 297.8,294.7 298.8,294.3 299.8,293.8 300.7,293.4 301.7,293.1 302.6,292.7 303.6,292.3 304.5,292.0 305.5,291.6 306.5,291.3 307.4,291.0 308.4,290.7 309.4,290.4 310.3,290.1 311.3,289.9 312.2,289.7 313.2,289.5 314.1,289.3 315.1,289.1 316.0,289.0 317.0,288.8 317.9,288.7 318.9,288.7 319.8,288.6 320.8,288.6 321.7,288.5 322.6,288.6 323.6,288.6 324.6,288.6 325.5,288.7 326.5,288.7 327.5,288.8 328.5,288.9 329.5,289.0 330.6,289.1 331.7,289.2 332.9,289.4 334.1,289.6 335.3,289.8 336.4,290.0 337.5,290.2 338.5,290.4 339.4,290.5 340.1,290.7 340.7,290.8" fill="url(#gl)" stroke="none"/>
<polyline points="341.3,287.6 340.7,287.5 339.9,287.4 339.0,287.2 338.0,287.1 337.0,286.9 335.8,286.7 334.6,286.5 333.4,286.3 332.2,286.1 331.0,286.0 329.8,285.8 328.7,285.7 327.7,285.7 326.7,285.6 325.7,285.5 324.7,285.5 323.7,285.5 322.7,285.4 321.7,285.4 320.7,285.5 319.7,285.5 318.6,285.6 317.6,285.7 316.6,285.8 315.6,285.9 314.6,286.1 313.6,286.3 312.6,286.5 311.5,286.7 310.5,286.9 309.5,287.2 308.5,287.5 307.5,287.8 306.5,288.1 305.5,288.4 304.5,288.8 303.5,289.1 302.5,289.5 301.5,289.9 300.5,290.3 299.6,290.7 298.6,291.2 297.6,291.7 296.6,292.1 295.6,292.7 294.6,293.2 293.5,293.8 292.5,294.4 291.4,295.1 290.4,295.8 289.3,296.5 288.2,297.3 287.1,298.1 286.0,298.9 284.9,299.7 283.8,300.5 282.7,301.3 281.6,302.2 280.6,303.0 279.6,303.8 278.6,304.6 277.6,305.4 276.7,306.2 275.8,307.0 274.8,307.9 273.9,308.7 273.0,309.5 272.2,310.3 271.3,311.1 270.4,312.0 269.5,312.8 268.7,313.6 267.8,314.4 266.9,315.2 266.0,316.1 265.2,316.9 264.3,317.7 263.5,318.6 262.6,319.4 261.8,320.3 261.0,321.1 260.2,321.9 259.4,322.8 258.6,323.6 257.9,324.5 257.1,325.3 256.4,326.1 255.7,326.9 255.0,327.8 254.4,328.6 253.7,329.4 253.1,330.2 252.4,331.1 251.7,331.9 251.1,332.7 250.4,333.5 249.8,334.3 249.1,335.1 248.6,335.8 248.0,336.5 247.4,337.1 246.8,337.9 246.2,338.6 245.6,339.5 245.0,340.4 244.3,341.4 243.5,342.6 242.7,343.9 241.8,345.4 240.8,347.0 239.8,348.9 238.7,350.8 237.6,352.8 236.4,354.9 235.3,357.0 234.2,359.1 233.0,361.2 232.0,363.2 230.9,365.1 230.0,366.9 229.1,368.6 228.2,370.2 227.3,371.7 226.5,373.3 225.7,374.7 224.9,376.2 224.1,377.6 223.4,379.1 222.6,380.5 221.9,381.9 221.2,383.3 220.6,384.7 219.9,386.1 219.3,387.5 218.7,388.9 218.1,390.2 217.6,391.6 217.0,392.9 216.5,394.2 216.0,395.6 215.5,396.9 215.0,398.2 214.5,399.6 214.1,400.9 213.6,402.3 213.1,403.6 212.7,405.0 212.3,406.3 211.9,407.7 211.5,409.0 211.1,410.4 210.7,411.7 210.3,413.1 209.9,414.4 209.5,415.8 209.2,417.1 208.8,418.5 208.4,419.8 208.1,421.2 207.7,422.5 207.4,423.9 207.1,425.2 206.7,426.6 206.4,427.9 206.1,429.3 205.8,430.6 205.5,432.0 205.2,433.3 204.9,434.7 204.5,436.0 204.2,437.4 203.9,438.7 203.6,440.1 203.4,441.5 203.1,442.8 202.8,444.2 202.5,445.5 202.3,446.9 202.1,448.2 201.9,449.6 201.7,450.9 201.5,452.3 201.3,453.6 201.1,454.9 201.0,456.3 200.9,457.6 200.7,459.0 200.6,460.3 200.5,461.6 200.4,463.0 200.3,464.3 200.3,465.7 200.2,467.0 200.1,468.4 200.1,469.7 200.0,471.0 200.0,472.4 199.9,473.7 199.9,475.1 199.8,476.4 199.8,477.8 199.8,479.2 199.8,480.6 199.8,482.0 199.8,483.4 199.8,484.9 199.8,486.4 199.8,487.9 199.8,489.4 199.8,490.9 199.9,492.4 199.9,494.0 200.0,495.5 200.1,497.0 200.2,498.6 200.3,500.1 200.5,501.7 200.7,503.2 200.9,504.8 201.2,506.4 201.4,508.0 201.7,509.6 202.0,511.2 202.3,512.8 202.7,514.3 203.0,515.8 203.4,517.3 203.8,518.7 204.2,520.0 204.7,521.4 205.1,522.6 205.6,523.9 206.1,525.1 206.7,526.2 207.2,527.4 207.8,528.5 208.3,529.7 208.9,530.8 209.5,531.9 210.1,533.0 210.8,534.2 211.5,535.4 212.3,536.7 213.1,537.9 213.9,539.2 214.7,540.4 215.5,541.6 216.3,542.7 217.0,543.7 217.6,544.5 218.1,545.3 218.5,545.9" fill="none" stroke="#333" stroke-width="1.1"/>
<polyline points="340.7,290.8 340.1,290.7 339.4,290.5 338.5,290.4 337.5,290.2 336.4,290.0 335.3,289.8 334.1,289.6 332.9,289.4 331.7,289.2 330.6,289.1 329.5,289.0 328.5,288.9 327.5,288.8 326.5,288.7 325.5,288.7 324.6,288.6 323.6,288.6 322.6,288.6 321.7,288.5 320.8,288.6 319.8,288.6 318.9,288.7 317.9,288.7 317.0,288.8 316.0,289.0 315.1,289.1 314.1,289.3 313.2,289.5 312.2,289.7 311.3,289.9 310.3,290.1 309.4,290.4 308.4,290.7 307.4,291.0 306.5,291.3 305.5,291.6 304.5,292.0 303.6,292.3 302.6,292.7 301.7,293.1 300.7,293.4 299.8,293.8 298.8,294.3 297.8,294.7 296.9,295.2 295.9,295.7 294.9,296.2 293.9,296.8 292.9,297.4 291.8,298.0 290.7,298.7 289.6,299.4 288.5,300.2 287.4,300.9 286.3,301.7 285.2,302.5 284.1,303.3 283.1,304.1 282.0,304.8 281.0,305.6 280.0,306.4 279.1,307.1 278.1,307.9 277.2,308.7 276.2,309.5 275.3,310.2 274.4,311.0 273.5,311.8 272.6,312.6 271.7,313.4 270.8,314.2 269.9,315.0 269.0,315.8 268.1,316.6 267.2,317.4 266.3,318.2 265.4,318.9 264.5,319.7 263.6,320.5 262.8,321.3 261.9,322.0 261.0,322.8 260.2,323.6 259.4,324.4 258.6,325.2 257.8,325.9 257.1,326.7 256.3,327.5 255.6,328.3 254.9,329.0 254.2,329.8 253.5,330.6 252.8,331.4 252.1,332.2 251.5,333.0 250.8,333.9 250.1,334.7 249.5,335.4 248.9,336.1 248.4,336.8 247.8,337.5 247.2,338.2 246.6,338.9 246.0,339.8 245.4,340.7 244.7,341.7 243.9,342.8 243.1,344.1 242.2,345.6 241.3,347.3 240.2,349.1 239.1,351.0 238.0,353.1 236.9,355.2 235.7,357.3 234.6,359.4 233.5,361.4 232.4,363.4 231.4,365.3 230.4,367.1 229.5,368.8 228.6,370.4 227.8,372.0 226.9,373.5 226.1,375.0 225.3,376.4 224.6,377.9 223.8,379.3 223.1,380.7 222.4,382.1 221.7,383.5 221.0,384.9 220.4,386.3 219.8,387.7 219.2,389.1 218.6,390.4 218.0,391.8 217.5,393.1 217.0,394.4 216.5,395.7 216.0,397.1 215.5,398.4 215.0,399.7 214.5,401.1 214.1,402.4 213.6,403.8 213.2,405.1 212.8,406.5 212.3,407.8 211.9,409.2 211.5,410.5 211.1,411.9 210.8,413.2 210.4,414.6 210.0,415.9 209.6,417.3 209.3,418.6 208.9,420.0 208.6,421.3 208.2,422.7 207.9,424.0 207.5,425.4 207.2,426.7 206.9,428.1 206.6,429.4 206.3,430.8 205.9,432.1 205.6,433.5 205.3,434.8 205.0,436.2 204.7,437.5 204.4,438.9 204.1,440.2 203.8,441.6 203.6,442.9 203.3,444.3 203.0,445.6 202.8,446.9 202.6,448.3 202.3,449.6 202.2,451.0 202.0,452.3 201.8,453.7 201.6,455.0 201.5,456.3 201.4,457.7 201.2,459.0 201.1,460.3 201.0,461.7 200.9,463.0 200.8,464.4 200.7,465.7 200.7,467.1 200.6,468.4 200.6,469.7 200.6,471.1 200.6,472.4 200.6,473.7 200.6,475.1 200.6,476.4 200.7,477.8 200.7,479.2 200.7,480.6 200.8,482.0 200.9,483.4 200.9,484.9 201.0,486.4 201.0,487.8 201.1,489.3 201.2,490.8 201.3,492.4 201.4,493.9 201.5,495.4 201.7,496.9 201.8,498.4 202.1,499.9 202.3,501.4 202.6,502.9 202.8,504.5 203.1,506.1 203.5,507.6 203.8,509.2 204.2,510.7 204.5,512.2 204.9,513.7 205.3,515.2 205.8,516.6 206.2,517.9 206.7,519.2 207.1,520.4 207.6,521.6 208.1,522.8 208.6,523.9 209.2,525.1 209.7,526.2 210.3,527.2 210.9,528.3 211.4,529.4 212.1,530.5 212.7,531.6 213.3,532.7 214.0,533.9 214.8,535.1 215.6,536.3 216.4,537.5 217.3,538.7 218.1,539.8 218.8,540.9 219.5,541.8 220.2,542.7 220.7,543.5 221.1,544.1" fill="none" stroke="#333" stroke-width="1.1"/>
<line x1="341.3" y1="287.6" x2="340.7" y2="290.8" stroke="#333" stroke-width="1.1"/>
<polygon points="227.3,527.4 236.4,556.0 213.7,562.4" fill="#fff" stroke="none"/>
<polyline points="221.1,544.1 227.3,527.4 236.4,556.0 213.7,562.4 218.5,545.9" fill="none" stroke="#333" stroke-width="1.2" stroke-linejoin="miter"/>
</svg>
</body></html>
